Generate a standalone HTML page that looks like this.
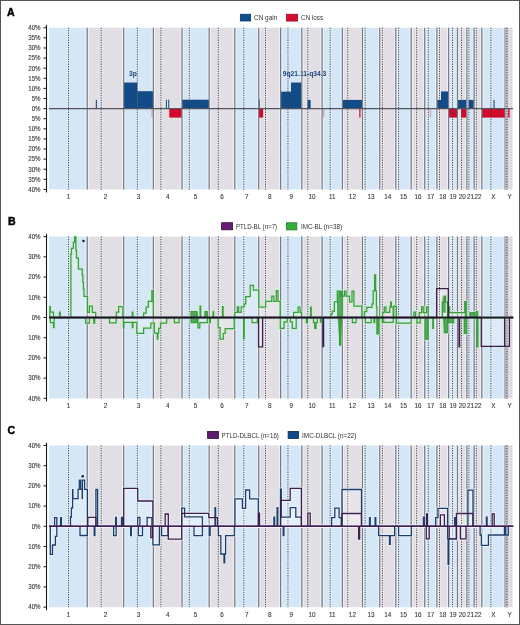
<!DOCTYPE html>
<html><head><meta charset="utf-8"><style>html,body{margin:0;padding:0;background:#fff;}svg{display:block;will-change:transform;}</style></head>
<body><svg width="520" height="625" viewBox="0 0 520 625">
<rect x="0.5" y="0.5" width="519" height="624" fill="#fff" stroke="#555" stroke-width="1"/>
<rect x="49" y="27.7" width="38.21" height="161.8" fill="#d5e7f7"/>
<rect x="87.21" y="27.7" width="36.47" height="161.8" fill="#e2dfe4"/>
<rect x="123.68" y="27.7" width="29.69" height="161.8" fill="#d5e7f7"/>
<rect x="153.37" y="27.7" width="28.66" height="161.8" fill="#e2dfe4"/>
<rect x="182.03" y="27.7" width="27.13" height="161.8" fill="#d5e7f7"/>
<rect x="209.16" y="27.7" width="25.66" height="161.8" fill="#e2dfe4"/>
<rect x="234.81" y="27.7" width="23.86" height="161.8" fill="#d5e7f7"/>
<rect x="258.68" y="27.7" width="21.95" height="161.8" fill="#e2dfe4"/>
<rect x="280.62" y="27.7" width="21.17" height="161.8" fill="#d5e7f7"/>
<rect x="301.8" y="27.7" width="20.32" height="161.8" fill="#e2dfe4"/>
<rect x="322.12" y="27.7" width="20.24" height="161.8" fill="#d5e7f7"/>
<rect x="342.36" y="27.7" width="20.07" height="161.8" fill="#e2dfe4"/>
<rect x="362.43" y="27.7" width="17.27" height="161.8" fill="#d5e7f7"/>
<rect x="379.7" y="27.7" width="16.1" height="161.8" fill="#e2dfe4"/>
<rect x="395.79" y="27.7" width="15.37" height="161.8" fill="#d5e7f7"/>
<rect x="411.17" y="27.7" width="13.55" height="161.8" fill="#e2dfe4"/>
<rect x="424.72" y="27.7" width="12.17" height="161.8" fill="#d5e7f7"/>
<rect x="436.89" y="27.7" width="11.71" height="161.8" fill="#e2dfe4"/>
<rect x="448.6" y="27.7" width="8.87" height="161.8" fill="#d5e7f7"/>
<rect x="457.46" y="27.7" width="9.45" height="161.8" fill="#e2dfe4"/>
<rect x="466.91" y="27.7" width="7.22" height="161.8" fill="#d5e7f7"/>
<rect x="474.13" y="27.7" width="7.69" height="161.8" fill="#e2dfe4"/>
<rect x="481.82" y="27.7" width="23.28" height="161.8" fill="#d5e7f7"/>
<rect x="505.1" y="27.7" width="7.5" height="161.8" fill="#e2dfe4"/>
<line x1="87.21" y1="27.7" x2="87.21" y2="189.5" stroke="#fff" stroke-opacity="0.5" stroke-width="3.4"/>
<line x1="123.68" y1="27.7" x2="123.68" y2="189.5" stroke="#fff" stroke-opacity="0.5" stroke-width="3.4"/>
<line x1="153.37" y1="27.7" x2="153.37" y2="189.5" stroke="#fff" stroke-opacity="0.5" stroke-width="3.4"/>
<line x1="182.03" y1="27.7" x2="182.03" y2="189.5" stroke="#fff" stroke-opacity="0.5" stroke-width="3.4"/>
<line x1="209.16" y1="27.7" x2="209.16" y2="189.5" stroke="#fff" stroke-opacity="0.5" stroke-width="3.4"/>
<line x1="234.81" y1="27.7" x2="234.81" y2="189.5" stroke="#fff" stroke-opacity="0.5" stroke-width="3.4"/>
<line x1="258.68" y1="27.7" x2="258.68" y2="189.5" stroke="#fff" stroke-opacity="0.5" stroke-width="3.4"/>
<line x1="280.62" y1="27.7" x2="280.62" y2="189.5" stroke="#fff" stroke-opacity="0.5" stroke-width="3.4"/>
<line x1="301.8" y1="27.7" x2="301.8" y2="189.5" stroke="#fff" stroke-opacity="0.5" stroke-width="3.4"/>
<line x1="322.12" y1="27.7" x2="322.12" y2="189.5" stroke="#fff" stroke-opacity="0.5" stroke-width="3.4"/>
<line x1="342.36" y1="27.7" x2="342.36" y2="189.5" stroke="#fff" stroke-opacity="0.5" stroke-width="3.4"/>
<line x1="362.43" y1="27.7" x2="362.43" y2="189.5" stroke="#fff" stroke-opacity="0.5" stroke-width="3.4"/>
<line x1="379.7" y1="27.7" x2="379.7" y2="189.5" stroke="#fff" stroke-opacity="0.5" stroke-width="3.4"/>
<line x1="395.79" y1="27.7" x2="395.79" y2="189.5" stroke="#fff" stroke-opacity="0.5" stroke-width="3.4"/>
<line x1="411.17" y1="27.7" x2="411.17" y2="189.5" stroke="#fff" stroke-opacity="0.5" stroke-width="3.4"/>
<line x1="424.72" y1="27.7" x2="424.72" y2="189.5" stroke="#fff" stroke-opacity="0.5" stroke-width="3.4"/>
<line x1="436.89" y1="27.7" x2="436.89" y2="189.5" stroke="#fff" stroke-opacity="0.5" stroke-width="3.4"/>
<line x1="448.6" y1="27.7" x2="448.6" y2="189.5" stroke="#fff" stroke-opacity="0.5" stroke-width="3.4"/>
<line x1="457.46" y1="27.7" x2="457.46" y2="189.5" stroke="#fff" stroke-opacity="0.5" stroke-width="3.4"/>
<line x1="466.91" y1="27.7" x2="466.91" y2="189.5" stroke="#fff" stroke-opacity="0.5" stroke-width="3.4"/>
<line x1="474.13" y1="27.7" x2="474.13" y2="189.5" stroke="#fff" stroke-opacity="0.5" stroke-width="3.4"/>
<line x1="481.82" y1="27.7" x2="481.82" y2="189.5" stroke="#fff" stroke-opacity="0.5" stroke-width="3.4"/>
<line x1="505.1" y1="27.7" x2="505.1" y2="189.5" stroke="#fff" stroke-opacity="0.5" stroke-width="3.4"/>
<line x1="68.58" y1="27.7" x2="68.58" y2="189.5" stroke="#fff" stroke-opacity="0.3" stroke-width="2.8"/>
<line x1="101.2" y1="27.7" x2="101.2" y2="189.5" stroke="#fff" stroke-opacity="0.3" stroke-width="2.8"/>
<line x1="137.32" y1="27.7" x2="137.32" y2="189.5" stroke="#fff" stroke-opacity="0.3" stroke-width="2.8"/>
<line x1="160.93" y1="27.7" x2="160.93" y2="189.5" stroke="#fff" stroke-opacity="0.3" stroke-width="2.8"/>
<line x1="189.29" y1="27.7" x2="189.29" y2="189.5" stroke="#fff" stroke-opacity="0.3" stroke-width="2.8"/>
<line x1="218.3" y1="27.7" x2="218.3" y2="189.5" stroke="#fff" stroke-opacity="0.3" stroke-width="2.8"/>
<line x1="243.8" y1="27.7" x2="243.8" y2="189.5" stroke="#fff" stroke-opacity="0.3" stroke-width="2.8"/>
<line x1="265.51" y1="27.7" x2="265.51" y2="189.5" stroke="#fff" stroke-opacity="0.3" stroke-width="2.8"/>
<line x1="287.97" y1="27.7" x2="287.97" y2="189.5" stroke="#fff" stroke-opacity="0.3" stroke-width="2.8"/>
<line x1="307.82" y1="27.7" x2="307.82" y2="189.5" stroke="#fff" stroke-opacity="0.3" stroke-width="2.8"/>
<line x1="330.17" y1="27.7" x2="330.17" y2="189.5" stroke="#fff" stroke-opacity="0.3" stroke-width="2.8"/>
<line x1="347.73" y1="27.7" x2="347.73" y2="189.5" stroke="#fff" stroke-opacity="0.3" stroke-width="2.8"/>
<line x1="365.11" y1="27.7" x2="365.11" y2="189.5" stroke="#fff" stroke-opacity="0.3" stroke-width="2.8"/>
<line x1="382.34" y1="27.7" x2="382.34" y2="189.5" stroke="#fff" stroke-opacity="0.3" stroke-width="2.8"/>
<line x1="398.64" y1="27.7" x2="398.64" y2="189.5" stroke="#fff" stroke-opacity="0.3" stroke-width="2.8"/>
<line x1="416.66" y1="27.7" x2="416.66" y2="189.5" stroke="#fff" stroke-opacity="0.3" stroke-width="2.8"/>
<line x1="428.31" y1="27.7" x2="428.31" y2="189.5" stroke="#fff" stroke-opacity="0.3" stroke-width="2.8"/>
<line x1="439.47" y1="27.7" x2="439.47" y2="189.5" stroke="#fff" stroke-opacity="0.3" stroke-width="2.8"/>
<line x1="452.57" y1="27.7" x2="452.57" y2="189.5" stroke="#fff" stroke-opacity="0.3" stroke-width="2.8"/>
<line x1="461.59" y1="27.7" x2="461.59" y2="189.5" stroke="#fff" stroke-opacity="0.3" stroke-width="2.8"/>
<line x1="468.89" y1="27.7" x2="468.89" y2="189.5" stroke="#fff" stroke-opacity="0.3" stroke-width="2.8"/>
<line x1="476.33" y1="27.7" x2="476.33" y2="189.5" stroke="#fff" stroke-opacity="0.3" stroke-width="2.8"/>
<line x1="490.91" y1="27.7" x2="490.91" y2="189.5" stroke="#fff" stroke-opacity="0.3" stroke-width="2.8"/>
<text x="129" y="75.8" font-size="6.7" font-weight="bold" fill="#1a4678" font-family="Liberation Sans, sans-serif">3p</text>
<text x="282.8" y="75.8" font-size="6.7" font-weight="bold" fill="#1a4678" font-family="Liberation Sans, sans-serif">9q21.11-q34.3</text>
<rect x="95.8" y="99.91" width="1.1" height="8.69" fill="#114b88"/>
<rect x="123.7" y="82.53" width="13.6" height="26.07" fill="#114b88"/>
<rect x="137.3" y="91.22" width="16.2" height="17.38" fill="#114b88"/>
<rect x="165.9" y="99.71" width="1" height="8.89" fill="#114b88"/>
<rect x="168.2" y="99.71" width="1" height="8.89" fill="#114b88"/>
<rect x="181.9" y="99.71" width="27.1" height="8.89" fill="#114b88"/>
<rect x="258.7" y="99.3" width="1" height="9.3" fill="#114b88"/>
<rect x="280.5" y="91.62" width="10.5" height="16.98" fill="#114b88"/>
<rect x="291" y="82.53" width="10.5" height="26.07" fill="#114b88"/>
<rect x="307.6" y="99.91" width="3" height="8.69" fill="#114b88"/>
<rect x="342.5" y="99.91" width="19.8" height="8.69" fill="#114b88"/>
<rect x="437.1" y="99.91" width="11.3" height="8.69" fill="#114b88"/>
<rect x="441" y="91.42" width="7" height="17.18" fill="#114b88"/>
<rect x="457.7" y="99.91" width="8.7" height="8.69" fill="#114b88"/>
<rect x="468.7" y="99.91" width="5.1" height="8.69" fill="#114b88"/>
<rect x="493.5" y="99.91" width="1.1" height="8.69" fill="#114b88"/>
<rect x="169.3" y="108.6" width="12.5" height="8.99" fill="#d3062b"/>
<rect x="258.7" y="108.6" width="4.4" height="8.99" fill="#d3062b"/>
<rect x="359.3" y="108.6" width="1.2" height="8.99" fill="#d3062b"/>
<rect x="448.6" y="108.6" width="8.9" height="8.99" fill="#d3062b"/>
<rect x="461.2" y="108.6" width="5.2" height="8.99" fill="#d3062b"/>
<rect x="481.9" y="108.6" width="27.7" height="8.99" fill="#d3062b"/>
<rect x="151.3" y="108.6" width="1.4" height="8.69" fill="#d9a6b6"/>
<rect x="322.9" y="108.6" width="1.4" height="8.69" fill="#d9a6b6"/>
<rect x="429.8" y="108.6" width="1.3" height="8.69" fill="#d9a6b6"/>
<line x1="87.21" y1="27.7" x2="87.21" y2="189.5" stroke="#767b86" stroke-width="1.25"/>
<line x1="123.68" y1="27.7" x2="123.68" y2="189.5" stroke="#767b86" stroke-width="1.25"/>
<line x1="153.37" y1="27.7" x2="153.37" y2="189.5" stroke="#767b86" stroke-width="1.25"/>
<line x1="182.03" y1="27.7" x2="182.03" y2="189.5" stroke="#767b86" stroke-width="1.25"/>
<line x1="209.16" y1="27.7" x2="209.16" y2="189.5" stroke="#767b86" stroke-width="1.25"/>
<line x1="234.81" y1="27.7" x2="234.81" y2="189.5" stroke="#767b86" stroke-width="1.25"/>
<line x1="258.68" y1="27.7" x2="258.68" y2="189.5" stroke="#767b86" stroke-width="1.25"/>
<line x1="280.62" y1="27.7" x2="280.62" y2="189.5" stroke="#767b86" stroke-width="1.25"/>
<line x1="301.8" y1="27.7" x2="301.8" y2="189.5" stroke="#767b86" stroke-width="1.25"/>
<line x1="322.12" y1="27.7" x2="322.12" y2="189.5" stroke="#767b86" stroke-width="1.25"/>
<line x1="342.36" y1="27.7" x2="342.36" y2="189.5" stroke="#767b86" stroke-width="1.25"/>
<line x1="362.43" y1="27.7" x2="362.43" y2="189.5" stroke="#767b86" stroke-width="1.25"/>
<line x1="379.7" y1="27.7" x2="379.7" y2="189.5" stroke="#767b86" stroke-width="1.25"/>
<line x1="395.79" y1="27.7" x2="395.79" y2="189.5" stroke="#767b86" stroke-width="1.25"/>
<line x1="411.17" y1="27.7" x2="411.17" y2="189.5" stroke="#767b86" stroke-width="1.25"/>
<line x1="424.72" y1="27.7" x2="424.72" y2="189.5" stroke="#767b86" stroke-width="1.25"/>
<line x1="436.89" y1="27.7" x2="436.89" y2="189.5" stroke="#767b86" stroke-width="1.25"/>
<line x1="448.6" y1="27.7" x2="448.6" y2="189.5" stroke="#767b86" stroke-width="1.25"/>
<line x1="457.46" y1="27.7" x2="457.46" y2="189.5" stroke="#767b86" stroke-width="1.25"/>
<line x1="466.91" y1="27.7" x2="466.91" y2="189.5" stroke="#767b86" stroke-width="1.25"/>
<line x1="474.13" y1="27.7" x2="474.13" y2="189.5" stroke="#767b86" stroke-width="1.25"/>
<line x1="481.82" y1="27.7" x2="481.82" y2="189.5" stroke="#767b86" stroke-width="1.25"/>
<line x1="505.1" y1="27.7" x2="505.1" y2="189.5" stroke="#767b86" stroke-width="1.25"/>
<line x1="68.58" y1="27.7" x2="68.58" y2="189.5" stroke="#3a3e4c" stroke-width="1" stroke-dasharray="1.2 1.2"/>
<line x1="101.2" y1="27.7" x2="101.2" y2="189.5" stroke="#3a3e4c" stroke-width="1" stroke-dasharray="1.2 1.2"/>
<line x1="137.32" y1="27.7" x2="137.32" y2="189.5" stroke="#3a3e4c" stroke-width="1" stroke-dasharray="1.2 1.2"/>
<line x1="160.93" y1="27.7" x2="160.93" y2="189.5" stroke="#3a3e4c" stroke-width="1" stroke-dasharray="1.2 1.2"/>
<line x1="189.29" y1="27.7" x2="189.29" y2="189.5" stroke="#3a3e4c" stroke-width="1" stroke-dasharray="1.2 1.2"/>
<line x1="218.3" y1="27.7" x2="218.3" y2="189.5" stroke="#3a3e4c" stroke-width="1" stroke-dasharray="1.2 1.2"/>
<line x1="243.8" y1="27.7" x2="243.8" y2="189.5" stroke="#3a3e4c" stroke-width="1" stroke-dasharray="1.2 1.2"/>
<line x1="265.51" y1="27.7" x2="265.51" y2="189.5" stroke="#3a3e4c" stroke-width="1" stroke-dasharray="1.2 1.2"/>
<line x1="287.97" y1="27.7" x2="287.97" y2="189.5" stroke="#3a3e4c" stroke-width="1" stroke-dasharray="1.2 1.2"/>
<line x1="307.82" y1="27.7" x2="307.82" y2="189.5" stroke="#3a3e4c" stroke-width="1" stroke-dasharray="1.2 1.2"/>
<line x1="330.17" y1="27.7" x2="330.17" y2="189.5" stroke="#3a3e4c" stroke-width="1" stroke-dasharray="1.2 1.2"/>
<line x1="347.73" y1="27.7" x2="347.73" y2="189.5" stroke="#3a3e4c" stroke-width="1" stroke-dasharray="1.2 1.2"/>
<line x1="365.11" y1="27.7" x2="365.11" y2="189.5" stroke="#3a3e4c" stroke-width="1" stroke-dasharray="1.2 1.2"/>
<line x1="382.34" y1="27.7" x2="382.34" y2="189.5" stroke="#3a3e4c" stroke-width="1" stroke-dasharray="1.2 1.2"/>
<line x1="398.64" y1="27.7" x2="398.64" y2="189.5" stroke="#3a3e4c" stroke-width="1" stroke-dasharray="1.2 1.2"/>
<line x1="416.66" y1="27.7" x2="416.66" y2="189.5" stroke="#3a3e4c" stroke-width="1" stroke-dasharray="1.2 1.2"/>
<line x1="428.31" y1="27.7" x2="428.31" y2="189.5" stroke="#3a3e4c" stroke-width="1" stroke-dasharray="1.2 1.2"/>
<line x1="439.47" y1="27.7" x2="439.47" y2="189.5" stroke="#3a3e4c" stroke-width="1" stroke-dasharray="1.2 1.2"/>
<line x1="452.57" y1="27.7" x2="452.57" y2="189.5" stroke="#3a3e4c" stroke-width="1" stroke-dasharray="1.2 1.2"/>
<line x1="461.59" y1="27.7" x2="461.59" y2="189.5" stroke="#3a3e4c" stroke-width="1" stroke-dasharray="1.2 1.2"/>
<line x1="468.89" y1="27.7" x2="468.89" y2="189.5" stroke="#3a3e4c" stroke-width="1" stroke-dasharray="1.2 1.2"/>
<line x1="476.33" y1="27.7" x2="476.33" y2="189.5" stroke="#3a3e4c" stroke-width="1" stroke-dasharray="1.2 1.2"/>
<line x1="490.91" y1="27.7" x2="490.91" y2="189.5" stroke="#3a3e4c" stroke-width="1" stroke-dasharray="1.2 1.2"/>
<rect x="505.3" y="27.7" width="2.9" height="161.8" fill="#c6c8ce"/>
<line x1="506.8" y1="27.7" x2="506.8" y2="189.5" stroke="#7c808c" stroke-width="2.2" stroke-dasharray="1.2 1.4"/>
<line x1="511.4" y1="27.7" x2="511.4" y2="189.5" stroke="#c9c4cc" stroke-width="0.8" stroke-dasharray="1.1 1.6"/>
<line x1="49" y1="108.6" x2="513" y2="108.6" stroke="#55555c" stroke-width="1.2"/>
<line x1="46.5" y1="24.9" x2="46.5" y2="192.5" stroke="#1a1a1a" stroke-width="1.1"/>
<line x1="43.5" y1="27.76" x2="46.5" y2="27.76" stroke="#1a1a1a" stroke-width="1"/>
<text transform="translate(40.6 30.11) scale(0.95 1)" text-anchor="end" font-size="6.5" fill="#3a3a3a" stroke="#3a3a3a" stroke-width="0.12" font-family="Liberation Sans, sans-serif">40%</text>
<line x1="43.5" y1="37.86" x2="46.5" y2="37.86" stroke="#1a1a1a" stroke-width="1"/>
<text transform="translate(40.6 40.21) scale(0.95 1)" text-anchor="end" font-size="6.5" fill="#3a3a3a" stroke="#3a3a3a" stroke-width="0.12" font-family="Liberation Sans, sans-serif">35%</text>
<line x1="43.5" y1="47.97" x2="46.5" y2="47.97" stroke="#1a1a1a" stroke-width="1"/>
<text transform="translate(40.6 50.32) scale(0.95 1)" text-anchor="end" font-size="6.5" fill="#3a3a3a" stroke="#3a3a3a" stroke-width="0.12" font-family="Liberation Sans, sans-serif">30%</text>
<line x1="43.5" y1="58.07" x2="46.5" y2="58.07" stroke="#1a1a1a" stroke-width="1"/>
<text transform="translate(40.6 60.42) scale(0.95 1)" text-anchor="end" font-size="6.5" fill="#3a3a3a" stroke="#3a3a3a" stroke-width="0.12" font-family="Liberation Sans, sans-serif">25%</text>
<line x1="43.5" y1="68.18" x2="46.5" y2="68.18" stroke="#1a1a1a" stroke-width="1"/>
<text transform="translate(40.6 70.53) scale(0.95 1)" text-anchor="end" font-size="6.5" fill="#3a3a3a" stroke="#3a3a3a" stroke-width="0.12" font-family="Liberation Sans, sans-serif">20%</text>
<line x1="43.5" y1="78.28" x2="46.5" y2="78.28" stroke="#1a1a1a" stroke-width="1"/>
<text transform="translate(40.6 80.63) scale(0.95 1)" text-anchor="end" font-size="6.5" fill="#3a3a3a" stroke="#3a3a3a" stroke-width="0.12" font-family="Liberation Sans, sans-serif">15%</text>
<line x1="43.5" y1="88.39" x2="46.5" y2="88.39" stroke="#1a1a1a" stroke-width="1"/>
<text transform="translate(40.6 90.74) scale(0.95 1)" text-anchor="end" font-size="6.5" fill="#3a3a3a" stroke="#3a3a3a" stroke-width="0.12" font-family="Liberation Sans, sans-serif">10%</text>
<line x1="43.5" y1="98.49" x2="46.5" y2="98.49" stroke="#1a1a1a" stroke-width="1"/>
<text transform="translate(40.6 100.84) scale(0.95 1)" text-anchor="end" font-size="6.5" fill="#3a3a3a" stroke="#3a3a3a" stroke-width="0.12" font-family="Liberation Sans, sans-serif">5%</text>
<line x1="43.5" y1="108.6" x2="46.5" y2="108.6" stroke="#1a1a1a" stroke-width="1"/>
<text transform="translate(40.6 110.95) scale(0.95 1)" text-anchor="end" font-size="6.5" fill="#3a3a3a" stroke="#3a3a3a" stroke-width="0.12" font-family="Liberation Sans, sans-serif">0%</text>
<line x1="43.5" y1="118.7" x2="46.5" y2="118.7" stroke="#1a1a1a" stroke-width="1"/>
<text transform="translate(40.6 121.05) scale(0.95 1)" text-anchor="end" font-size="6.5" fill="#3a3a3a" stroke="#3a3a3a" stroke-width="0.12" font-family="Liberation Sans, sans-serif">5%</text>
<line x1="43.5" y1="128.81" x2="46.5" y2="128.81" stroke="#1a1a1a" stroke-width="1"/>
<text transform="translate(40.6 131.16) scale(0.95 1)" text-anchor="end" font-size="6.5" fill="#3a3a3a" stroke="#3a3a3a" stroke-width="0.12" font-family="Liberation Sans, sans-serif">10%</text>
<line x1="43.5" y1="138.91" x2="46.5" y2="138.91" stroke="#1a1a1a" stroke-width="1"/>
<text transform="translate(40.6 141.26) scale(0.95 1)" text-anchor="end" font-size="6.5" fill="#3a3a3a" stroke="#3a3a3a" stroke-width="0.12" font-family="Liberation Sans, sans-serif">15%</text>
<line x1="43.5" y1="149.02" x2="46.5" y2="149.02" stroke="#1a1a1a" stroke-width="1"/>
<text transform="translate(40.6 151.37) scale(0.95 1)" text-anchor="end" font-size="6.5" fill="#3a3a3a" stroke="#3a3a3a" stroke-width="0.12" font-family="Liberation Sans, sans-serif">20%</text>
<line x1="43.5" y1="159.12" x2="46.5" y2="159.12" stroke="#1a1a1a" stroke-width="1"/>
<text transform="translate(40.6 161.47) scale(0.95 1)" text-anchor="end" font-size="6.5" fill="#3a3a3a" stroke="#3a3a3a" stroke-width="0.12" font-family="Liberation Sans, sans-serif">25%</text>
<line x1="43.5" y1="169.23" x2="46.5" y2="169.23" stroke="#1a1a1a" stroke-width="1"/>
<text transform="translate(40.6 171.58) scale(0.95 1)" text-anchor="end" font-size="6.5" fill="#3a3a3a" stroke="#3a3a3a" stroke-width="0.12" font-family="Liberation Sans, sans-serif">30%</text>
<line x1="43.5" y1="179.33" x2="46.5" y2="179.33" stroke="#1a1a1a" stroke-width="1"/>
<text transform="translate(40.6 181.68) scale(0.95 1)" text-anchor="end" font-size="6.5" fill="#3a3a3a" stroke="#3a3a3a" stroke-width="0.12" font-family="Liberation Sans, sans-serif">35%</text>
<line x1="43.5" y1="189.44" x2="46.5" y2="189.44" stroke="#1a1a1a" stroke-width="1"/>
<text transform="translate(40.6 191.79) scale(0.95 1)" text-anchor="end" font-size="6.5" fill="#3a3a3a" stroke="#3a3a3a" stroke-width="0.12" font-family="Liberation Sans, sans-serif">40%</text>
<text transform="translate(68.53 198.8) scale(0.92 1)" text-anchor="middle" font-size="6.9" fill="#3a3a3a" stroke="#3a3a3a" stroke-width="0.12" font-family="Liberation Sans, sans-serif">1</text>
<text transform="translate(105.45 198.8) scale(0.92 1)" text-anchor="middle" font-size="6.9" fill="#3a3a3a" stroke="#3a3a3a" stroke-width="0.12" font-family="Liberation Sans, sans-serif">2</text>
<text transform="translate(138.52 198.8) scale(0.92 1)" text-anchor="middle" font-size="6.9" fill="#3a3a3a" stroke="#3a3a3a" stroke-width="0.12" font-family="Liberation Sans, sans-serif">3</text>
<text transform="translate(167.7 198.8) scale(0.92 1)" text-anchor="middle" font-size="6.9" fill="#3a3a3a" stroke="#3a3a3a" stroke-width="0.12" font-family="Liberation Sans, sans-serif">4</text>
<text transform="translate(195.59 198.8) scale(0.92 1)" text-anchor="middle" font-size="6.9" fill="#3a3a3a" stroke="#3a3a3a" stroke-width="0.12" font-family="Liberation Sans, sans-serif">5</text>
<text transform="translate(221.99 198.8) scale(0.92 1)" text-anchor="middle" font-size="6.9" fill="#3a3a3a" stroke="#3a3a3a" stroke-width="0.12" font-family="Liberation Sans, sans-serif">6</text>
<text transform="translate(246.75 198.8) scale(0.92 1)" text-anchor="middle" font-size="6.9" fill="#3a3a3a" stroke="#3a3a3a" stroke-width="0.12" font-family="Liberation Sans, sans-serif">7</text>
<text transform="translate(269.65 198.8) scale(0.92 1)" text-anchor="middle" font-size="6.9" fill="#3a3a3a" stroke="#3a3a3a" stroke-width="0.12" font-family="Liberation Sans, sans-serif">8</text>
<text transform="translate(291.21 198.8) scale(0.92 1)" text-anchor="middle" font-size="6.9" fill="#3a3a3a" stroke="#3a3a3a" stroke-width="0.12" font-family="Liberation Sans, sans-serif">9</text>
<text transform="translate(311.96 198.8) scale(0.92 1)" text-anchor="middle" font-size="6.9" fill="#3a3a3a" stroke="#3a3a3a" stroke-width="0.12" font-family="Liberation Sans, sans-serif">10</text>
<text transform="translate(332.24 198.8) scale(0.92 1)" text-anchor="middle" font-size="6.9" fill="#3a3a3a" stroke="#3a3a3a" stroke-width="0.12" font-family="Liberation Sans, sans-serif">11</text>
<text transform="translate(352.39 198.8) scale(0.92 1)" text-anchor="middle" font-size="6.9" fill="#3a3a3a" stroke="#3a3a3a" stroke-width="0.12" font-family="Liberation Sans, sans-serif">12</text>
<text transform="translate(371.06 198.8) scale(0.92 1)" text-anchor="middle" font-size="6.9" fill="#3a3a3a" stroke="#3a3a3a" stroke-width="0.12" font-family="Liberation Sans, sans-serif">13</text>
<text transform="translate(387.75 198.8) scale(0.92 1)" text-anchor="middle" font-size="6.9" fill="#3a3a3a" stroke="#3a3a3a" stroke-width="0.12" font-family="Liberation Sans, sans-serif">14</text>
<text transform="translate(403.48 198.8) scale(0.92 1)" text-anchor="middle" font-size="6.9" fill="#3a3a3a" stroke="#3a3a3a" stroke-width="0.12" font-family="Liberation Sans, sans-serif">15</text>
<text transform="translate(417.94 198.8) scale(0.92 1)" text-anchor="middle" font-size="6.9" fill="#3a3a3a" stroke="#3a3a3a" stroke-width="0.12" font-family="Liberation Sans, sans-serif">16</text>
<text transform="translate(430.8 198.8) scale(0.92 1)" text-anchor="middle" font-size="6.9" fill="#3a3a3a" stroke="#3a3a3a" stroke-width="0.12" font-family="Liberation Sans, sans-serif">17</text>
<text transform="translate(442.74 198.8) scale(0.92 1)" text-anchor="middle" font-size="6.9" fill="#3a3a3a" stroke="#3a3a3a" stroke-width="0.12" font-family="Liberation Sans, sans-serif">18</text>
<text transform="translate(453.03 198.8) scale(0.92 1)" text-anchor="middle" font-size="6.9" fill="#3a3a3a" stroke="#3a3a3a" stroke-width="0.12" font-family="Liberation Sans, sans-serif">19</text>
<text transform="translate(462.19 198.8) scale(0.92 1)" text-anchor="middle" font-size="6.9" fill="#3a3a3a" stroke="#3a3a3a" stroke-width="0.12" font-family="Liberation Sans, sans-serif">20</text>
<text transform="translate(470.52 198.8) scale(0.92 1)" text-anchor="middle" font-size="6.9" fill="#3a3a3a" stroke="#3a3a3a" stroke-width="0.12" font-family="Liberation Sans, sans-serif">21</text>
<text transform="translate(477.98 198.8) scale(0.92 1)" text-anchor="middle" font-size="6.9" fill="#3a3a3a" stroke="#3a3a3a" stroke-width="0.12" font-family="Liberation Sans, sans-serif">22</text>
<text transform="translate(493.46 198.8) scale(0.92 1)" text-anchor="middle" font-size="6.9" fill="#3a3a3a" stroke="#3a3a3a" stroke-width="0.12" font-family="Liberation Sans, sans-serif">X</text>
<text transform="translate(509.55 198.8) scale(0.92 1)" text-anchor="middle" font-size="6.9" fill="#3a3a3a" stroke="#3a3a3a" stroke-width="0.12" font-family="Liberation Sans, sans-serif">Y</text>
<text x="7.1" y="15.8" font-size="10.6" font-weight="bold" fill="#000" stroke="#000" stroke-width="0.45" font-family="Liberation Sans, sans-serif">A</text>
<rect x="240.3" y="14.2" width="10.4" height="6.8" fill="#0f4e8c" stroke="#0a3060" stroke-width="0.7"/>
<text x="254" y="20" font-size="7.2" fill="#333" textLength="23.3" lengthAdjust="spacingAndGlyphs" font-family="Liberation Sans, sans-serif">CN gain</text>
<rect x="286.5" y="14.2" width="11.2" height="6.9" fill="#d40a2e" stroke="#9a0a20" stroke-width="0.7"/>
<text x="301.1" y="20" font-size="7.2" fill="#333" textLength="22" lengthAdjust="spacingAndGlyphs" font-family="Liberation Sans, sans-serif">CN loss</text>
<rect x="49" y="236.6" width="38.21" height="161.8" fill="#d5e7f7"/>
<rect x="87.21" y="236.6" width="36.47" height="161.8" fill="#e2dfe4"/>
<rect x="123.68" y="236.6" width="29.69" height="161.8" fill="#d5e7f7"/>
<rect x="153.37" y="236.6" width="28.66" height="161.8" fill="#e2dfe4"/>
<rect x="182.03" y="236.6" width="27.13" height="161.8" fill="#d5e7f7"/>
<rect x="209.16" y="236.6" width="25.66" height="161.8" fill="#e2dfe4"/>
<rect x="234.81" y="236.6" width="23.86" height="161.8" fill="#d5e7f7"/>
<rect x="258.68" y="236.6" width="21.95" height="161.8" fill="#e2dfe4"/>
<rect x="280.62" y="236.6" width="21.17" height="161.8" fill="#d5e7f7"/>
<rect x="301.8" y="236.6" width="20.32" height="161.8" fill="#e2dfe4"/>
<rect x="322.12" y="236.6" width="20.24" height="161.8" fill="#d5e7f7"/>
<rect x="342.36" y="236.6" width="20.07" height="161.8" fill="#e2dfe4"/>
<rect x="362.43" y="236.6" width="17.27" height="161.8" fill="#d5e7f7"/>
<rect x="379.7" y="236.6" width="16.1" height="161.8" fill="#e2dfe4"/>
<rect x="395.79" y="236.6" width="15.37" height="161.8" fill="#d5e7f7"/>
<rect x="411.17" y="236.6" width="13.55" height="161.8" fill="#e2dfe4"/>
<rect x="424.72" y="236.6" width="12.17" height="161.8" fill="#d5e7f7"/>
<rect x="436.89" y="236.6" width="11.71" height="161.8" fill="#e2dfe4"/>
<rect x="448.6" y="236.6" width="8.87" height="161.8" fill="#d5e7f7"/>
<rect x="457.46" y="236.6" width="9.45" height="161.8" fill="#e2dfe4"/>
<rect x="466.91" y="236.6" width="7.22" height="161.8" fill="#d5e7f7"/>
<rect x="474.13" y="236.6" width="7.69" height="161.8" fill="#e2dfe4"/>
<rect x="481.82" y="236.6" width="23.28" height="161.8" fill="#d5e7f7"/>
<rect x="505.1" y="236.6" width="7.5" height="161.8" fill="#e2dfe4"/>
<line x1="87.21" y1="236.6" x2="87.21" y2="398.4" stroke="#fff" stroke-opacity="0.5" stroke-width="3.4"/>
<line x1="123.68" y1="236.6" x2="123.68" y2="398.4" stroke="#fff" stroke-opacity="0.5" stroke-width="3.4"/>
<line x1="153.37" y1="236.6" x2="153.37" y2="398.4" stroke="#fff" stroke-opacity="0.5" stroke-width="3.4"/>
<line x1="182.03" y1="236.6" x2="182.03" y2="398.4" stroke="#fff" stroke-opacity="0.5" stroke-width="3.4"/>
<line x1="209.16" y1="236.6" x2="209.16" y2="398.4" stroke="#fff" stroke-opacity="0.5" stroke-width="3.4"/>
<line x1="234.81" y1="236.6" x2="234.81" y2="398.4" stroke="#fff" stroke-opacity="0.5" stroke-width="3.4"/>
<line x1="258.68" y1="236.6" x2="258.68" y2="398.4" stroke="#fff" stroke-opacity="0.5" stroke-width="3.4"/>
<line x1="280.62" y1="236.6" x2="280.62" y2="398.4" stroke="#fff" stroke-opacity="0.5" stroke-width="3.4"/>
<line x1="301.8" y1="236.6" x2="301.8" y2="398.4" stroke="#fff" stroke-opacity="0.5" stroke-width="3.4"/>
<line x1="322.12" y1="236.6" x2="322.12" y2="398.4" stroke="#fff" stroke-opacity="0.5" stroke-width="3.4"/>
<line x1="342.36" y1="236.6" x2="342.36" y2="398.4" stroke="#fff" stroke-opacity="0.5" stroke-width="3.4"/>
<line x1="362.43" y1="236.6" x2="362.43" y2="398.4" stroke="#fff" stroke-opacity="0.5" stroke-width="3.4"/>
<line x1="379.7" y1="236.6" x2="379.7" y2="398.4" stroke="#fff" stroke-opacity="0.5" stroke-width="3.4"/>
<line x1="395.79" y1="236.6" x2="395.79" y2="398.4" stroke="#fff" stroke-opacity="0.5" stroke-width="3.4"/>
<line x1="411.17" y1="236.6" x2="411.17" y2="398.4" stroke="#fff" stroke-opacity="0.5" stroke-width="3.4"/>
<line x1="424.72" y1="236.6" x2="424.72" y2="398.4" stroke="#fff" stroke-opacity="0.5" stroke-width="3.4"/>
<line x1="436.89" y1="236.6" x2="436.89" y2="398.4" stroke="#fff" stroke-opacity="0.5" stroke-width="3.4"/>
<line x1="448.6" y1="236.6" x2="448.6" y2="398.4" stroke="#fff" stroke-opacity="0.5" stroke-width="3.4"/>
<line x1="457.46" y1="236.6" x2="457.46" y2="398.4" stroke="#fff" stroke-opacity="0.5" stroke-width="3.4"/>
<line x1="466.91" y1="236.6" x2="466.91" y2="398.4" stroke="#fff" stroke-opacity="0.5" stroke-width="3.4"/>
<line x1="474.13" y1="236.6" x2="474.13" y2="398.4" stroke="#fff" stroke-opacity="0.5" stroke-width="3.4"/>
<line x1="481.82" y1="236.6" x2="481.82" y2="398.4" stroke="#fff" stroke-opacity="0.5" stroke-width="3.4"/>
<line x1="505.1" y1="236.6" x2="505.1" y2="398.4" stroke="#fff" stroke-opacity="0.5" stroke-width="3.4"/>
<line x1="68.58" y1="236.6" x2="68.58" y2="398.4" stroke="#fff" stroke-opacity="0.3" stroke-width="2.8"/>
<line x1="101.2" y1="236.6" x2="101.2" y2="398.4" stroke="#fff" stroke-opacity="0.3" stroke-width="2.8"/>
<line x1="137.32" y1="236.6" x2="137.32" y2="398.4" stroke="#fff" stroke-opacity="0.3" stroke-width="2.8"/>
<line x1="160.93" y1="236.6" x2="160.93" y2="398.4" stroke="#fff" stroke-opacity="0.3" stroke-width="2.8"/>
<line x1="189.29" y1="236.6" x2="189.29" y2="398.4" stroke="#fff" stroke-opacity="0.3" stroke-width="2.8"/>
<line x1="218.3" y1="236.6" x2="218.3" y2="398.4" stroke="#fff" stroke-opacity="0.3" stroke-width="2.8"/>
<line x1="243.8" y1="236.6" x2="243.8" y2="398.4" stroke="#fff" stroke-opacity="0.3" stroke-width="2.8"/>
<line x1="265.51" y1="236.6" x2="265.51" y2="398.4" stroke="#fff" stroke-opacity="0.3" stroke-width="2.8"/>
<line x1="287.97" y1="236.6" x2="287.97" y2="398.4" stroke="#fff" stroke-opacity="0.3" stroke-width="2.8"/>
<line x1="307.82" y1="236.6" x2="307.82" y2="398.4" stroke="#fff" stroke-opacity="0.3" stroke-width="2.8"/>
<line x1="330.17" y1="236.6" x2="330.17" y2="398.4" stroke="#fff" stroke-opacity="0.3" stroke-width="2.8"/>
<line x1="347.73" y1="236.6" x2="347.73" y2="398.4" stroke="#fff" stroke-opacity="0.3" stroke-width="2.8"/>
<line x1="365.11" y1="236.6" x2="365.11" y2="398.4" stroke="#fff" stroke-opacity="0.3" stroke-width="2.8"/>
<line x1="382.34" y1="236.6" x2="382.34" y2="398.4" stroke="#fff" stroke-opacity="0.3" stroke-width="2.8"/>
<line x1="398.64" y1="236.6" x2="398.64" y2="398.4" stroke="#fff" stroke-opacity="0.3" stroke-width="2.8"/>
<line x1="416.66" y1="236.6" x2="416.66" y2="398.4" stroke="#fff" stroke-opacity="0.3" stroke-width="2.8"/>
<line x1="428.31" y1="236.6" x2="428.31" y2="398.4" stroke="#fff" stroke-opacity="0.3" stroke-width="2.8"/>
<line x1="439.47" y1="236.6" x2="439.47" y2="398.4" stroke="#fff" stroke-opacity="0.3" stroke-width="2.8"/>
<line x1="452.57" y1="236.6" x2="452.57" y2="398.4" stroke="#fff" stroke-opacity="0.3" stroke-width="2.8"/>
<line x1="461.59" y1="236.6" x2="461.59" y2="398.4" stroke="#fff" stroke-opacity="0.3" stroke-width="2.8"/>
<line x1="468.89" y1="236.6" x2="468.89" y2="398.4" stroke="#fff" stroke-opacity="0.3" stroke-width="2.8"/>
<line x1="476.33" y1="236.6" x2="476.33" y2="398.4" stroke="#fff" stroke-opacity="0.3" stroke-width="2.8"/>
<line x1="490.91" y1="236.6" x2="490.91" y2="398.4" stroke="#fff" stroke-opacity="0.3" stroke-width="2.8"/>
<line x1="87.21" y1="236.6" x2="87.21" y2="398.4" stroke="#767b86" stroke-width="1.25"/>
<line x1="123.68" y1="236.6" x2="123.68" y2="398.4" stroke="#767b86" stroke-width="1.25"/>
<line x1="153.37" y1="236.6" x2="153.37" y2="398.4" stroke="#767b86" stroke-width="1.25"/>
<line x1="182.03" y1="236.6" x2="182.03" y2="398.4" stroke="#767b86" stroke-width="1.25"/>
<line x1="209.16" y1="236.6" x2="209.16" y2="398.4" stroke="#767b86" stroke-width="1.25"/>
<line x1="234.81" y1="236.6" x2="234.81" y2="398.4" stroke="#767b86" stroke-width="1.25"/>
<line x1="258.68" y1="236.6" x2="258.68" y2="398.4" stroke="#767b86" stroke-width="1.25"/>
<line x1="280.62" y1="236.6" x2="280.62" y2="398.4" stroke="#767b86" stroke-width="1.25"/>
<line x1="301.8" y1="236.6" x2="301.8" y2="398.4" stroke="#767b86" stroke-width="1.25"/>
<line x1="322.12" y1="236.6" x2="322.12" y2="398.4" stroke="#767b86" stroke-width="1.25"/>
<line x1="342.36" y1="236.6" x2="342.36" y2="398.4" stroke="#767b86" stroke-width="1.25"/>
<line x1="362.43" y1="236.6" x2="362.43" y2="398.4" stroke="#767b86" stroke-width="1.25"/>
<line x1="379.7" y1="236.6" x2="379.7" y2="398.4" stroke="#767b86" stroke-width="1.25"/>
<line x1="395.79" y1="236.6" x2="395.79" y2="398.4" stroke="#767b86" stroke-width="1.25"/>
<line x1="411.17" y1="236.6" x2="411.17" y2="398.4" stroke="#767b86" stroke-width="1.25"/>
<line x1="424.72" y1="236.6" x2="424.72" y2="398.4" stroke="#767b86" stroke-width="1.25"/>
<line x1="436.89" y1="236.6" x2="436.89" y2="398.4" stroke="#767b86" stroke-width="1.25"/>
<line x1="448.6" y1="236.6" x2="448.6" y2="398.4" stroke="#767b86" stroke-width="1.25"/>
<line x1="457.46" y1="236.6" x2="457.46" y2="398.4" stroke="#767b86" stroke-width="1.25"/>
<line x1="466.91" y1="236.6" x2="466.91" y2="398.4" stroke="#767b86" stroke-width="1.25"/>
<line x1="474.13" y1="236.6" x2="474.13" y2="398.4" stroke="#767b86" stroke-width="1.25"/>
<line x1="481.82" y1="236.6" x2="481.82" y2="398.4" stroke="#767b86" stroke-width="1.25"/>
<line x1="505.1" y1="236.6" x2="505.1" y2="398.4" stroke="#767b86" stroke-width="1.25"/>
<line x1="68.58" y1="236.6" x2="68.58" y2="398.4" stroke="#3a3e4c" stroke-width="1" stroke-dasharray="1.2 1.2"/>
<line x1="101.2" y1="236.6" x2="101.2" y2="398.4" stroke="#3a3e4c" stroke-width="1" stroke-dasharray="1.2 1.2"/>
<line x1="137.32" y1="236.6" x2="137.32" y2="398.4" stroke="#3a3e4c" stroke-width="1" stroke-dasharray="1.2 1.2"/>
<line x1="160.93" y1="236.6" x2="160.93" y2="398.4" stroke="#3a3e4c" stroke-width="1" stroke-dasharray="1.2 1.2"/>
<line x1="189.29" y1="236.6" x2="189.29" y2="398.4" stroke="#3a3e4c" stroke-width="1" stroke-dasharray="1.2 1.2"/>
<line x1="218.3" y1="236.6" x2="218.3" y2="398.4" stroke="#3a3e4c" stroke-width="1" stroke-dasharray="1.2 1.2"/>
<line x1="243.8" y1="236.6" x2="243.8" y2="398.4" stroke="#3a3e4c" stroke-width="1" stroke-dasharray="1.2 1.2"/>
<line x1="265.51" y1="236.6" x2="265.51" y2="398.4" stroke="#3a3e4c" stroke-width="1" stroke-dasharray="1.2 1.2"/>
<line x1="287.97" y1="236.6" x2="287.97" y2="398.4" stroke="#3a3e4c" stroke-width="1" stroke-dasharray="1.2 1.2"/>
<line x1="307.82" y1="236.6" x2="307.82" y2="398.4" stroke="#3a3e4c" stroke-width="1" stroke-dasharray="1.2 1.2"/>
<line x1="330.17" y1="236.6" x2="330.17" y2="398.4" stroke="#3a3e4c" stroke-width="1" stroke-dasharray="1.2 1.2"/>
<line x1="347.73" y1="236.6" x2="347.73" y2="398.4" stroke="#3a3e4c" stroke-width="1" stroke-dasharray="1.2 1.2"/>
<line x1="365.11" y1="236.6" x2="365.11" y2="398.4" stroke="#3a3e4c" stroke-width="1" stroke-dasharray="1.2 1.2"/>
<line x1="382.34" y1="236.6" x2="382.34" y2="398.4" stroke="#3a3e4c" stroke-width="1" stroke-dasharray="1.2 1.2"/>
<line x1="398.64" y1="236.6" x2="398.64" y2="398.4" stroke="#3a3e4c" stroke-width="1" stroke-dasharray="1.2 1.2"/>
<line x1="416.66" y1="236.6" x2="416.66" y2="398.4" stroke="#3a3e4c" stroke-width="1" stroke-dasharray="1.2 1.2"/>
<line x1="428.31" y1="236.6" x2="428.31" y2="398.4" stroke="#3a3e4c" stroke-width="1" stroke-dasharray="1.2 1.2"/>
<line x1="439.47" y1="236.6" x2="439.47" y2="398.4" stroke="#3a3e4c" stroke-width="1" stroke-dasharray="1.2 1.2"/>
<line x1="452.57" y1="236.6" x2="452.57" y2="398.4" stroke="#3a3e4c" stroke-width="1" stroke-dasharray="1.2 1.2"/>
<line x1="461.59" y1="236.6" x2="461.59" y2="398.4" stroke="#3a3e4c" stroke-width="1" stroke-dasharray="1.2 1.2"/>
<line x1="468.89" y1="236.6" x2="468.89" y2="398.4" stroke="#3a3e4c" stroke-width="1" stroke-dasharray="1.2 1.2"/>
<line x1="476.33" y1="236.6" x2="476.33" y2="398.4" stroke="#3a3e4c" stroke-width="1" stroke-dasharray="1.2 1.2"/>
<line x1="490.91" y1="236.6" x2="490.91" y2="398.4" stroke="#3a3e4c" stroke-width="1" stroke-dasharray="1.2 1.2"/>
<rect x="505.3" y="236.6" width="2.9" height="161.8" fill="#c6c8ce"/>
<line x1="506.8" y1="236.6" x2="506.8" y2="398.4" stroke="#7c808c" stroke-width="2.2" stroke-dasharray="1.2 1.4"/>
<line x1="511.4" y1="236.6" x2="511.4" y2="398.4" stroke="#c9c4cc" stroke-width="0.8" stroke-dasharray="1.1 1.6"/>
<path d="M49.9 317.5H49.9V306.5H50.4V312.2H53.5V317.5H59.5V312.2H60.2V317.5H70.9V254.2H71.5V248.4H73.4V242.4H74.6V236.8H75.9V250H76.5V258H78.4V269.2H82.2V275H82.8V282H83.4V289H84V296.4H87.5V312.4H89.4V306.2H92.3V312.4H95.7V317.5H116.4V312.2H118.7V306.6H122.9V317.5H132.3V312.2H132.9V317.5H143.6V313H146.1V307.2H148.3V301.4H151.9V290.6H153.3V317.5H191.1V311.7H196.9V317.5H200.1V306H200.7V317.5H205V311.7H207.3V317.5H213V311.7H213.6V317.5H222.5V306.5H223.1V317.5H234.8V312.3H237.4V306.9H238.7V312.3H241.2V306.9H244.2V303.9H245.7V296.6H250.2V285.4H253.4V290.2H258.8V307.1H265.6V301.4H271.8V296.2H273.8V301.4H276.3V290.5H278V301.4H280.2V317.5H293.6V312.3H298.1V307.1H300V312.3H301.5V317.5H310.6V307.1H311.2V317.5H330.8V314H332.2V311.2H334.4V301.8H337.3V291H339.5V296H340.5V291H342V296H344.5V291H346V296H349.5V301.8H352V291H353.9V306.1H361.8V317.5H364.4V311.6H366.7V307.4H372V303.9H373.2V290.9H374.6V274.9H375.6V290.9H376.4V307.2H376.9V317.5H382.7V312.3H384.3V307.2H386V312.3H389.7V307.2H390.6V302.1H391.4V307.2H393.2V317.5H393.8V306.1H396.4V317.5H413.9V312.2H415.5V317.5H419.3V312.5H421.6V306.8H423.2V312.5H426.6V306.8H428.2V317.5H442.4V302H444.3V296.2H445.6V302H447.5V317.5H448.9V306.8H449.6V312.6H464.75V301.5H466.2V317.5H470V312.6H474.8V317.5H476.3V311.6H477.7V317.5H513V317.5V317.5Z" fill="#fff" fill-opacity="0.2" stroke="none"/>
<path d="M49.9 317.5H49.9V317.5H50.4V322.6H53.5V327.6H54.1V317.5H85.6V323H89.4V317.5H93.8V323H94.7V317.5H109.5V322.8H116.2V317.5H123.4V328H123.9V322.3H132.3V327.6H132.9V322.3H136.8V333.4H143.6V328.2H150.8V323.2H154.4V333.2H157.3V339.2H157.9V333.2H158.7V328.4H160.5V323H166.6V317.5H174.4V322.7H179V317.5H191.1V322.7H196.9V317.5H198V327.9H199.8V322.7H207.3V317.5H209.6V322.7H210.3V317.5H218.2V327.6H220.1V339.1H223.3V333.4H225.2V328.6H234.2V317.5H243.6V338.5H244.2V317.5H252.1V322.5H257.3V317.5H280.3V328.3H284V321.9H287.2V317.5H290.4V321.9H292.3V328.3H296.2V317.5H306.4V322.5H307.4V317.5H313.5V322.5H314.7V328.3H316V322.5H317.3V317.5H320.5V322.2H321.2V317.5H339.6V345H340.8V317.5H352.4V322.7H356V317.5H365.4V322.7H371.2V317.5H374V322.7H374.7V317.5H376.9V333.8H378.9V317.5H382.3V322.3H393.2V317.5H396.4V323.2H411.2V317.5H417V322.9H420.1V317.5H425.1V339.1H428.2V317.5H432.8V328.3H433.4V317.5H444.3V332.7H447.5V317.5H448.4V322.7H450.8V317.5H452.2V322.7H453.7V317.5H464.3V333.3H466.7V317.5H476.6V346.8H477.9V317.5H513V317.5V317.5Z" fill="#fff" fill-opacity="0.2" stroke="none"/>
<path d="M49 317.5H49V317.5H436.6V288.6H448.3V317.5H513V317.5V317.5Z" fill="#fff" fill-opacity="0.2" stroke="none"/>
<path d="M49 317.5H49V317.5H258.5V346.8H262.6V317.5H322.9V346.5H323.6V317.5H459V346.8H459.6V317.5H481.3V346.3H504.6V317.5H504.7V346.3H509.4V317.5H513V317.5V317.5Z" fill="#fff" fill-opacity="0.2" stroke="none"/>
<path d="M49.9 317.5H49.9V306.5H50.4V312.2H53.5V317.5H59.5V312.2H60.2V317.5H70.9V254.2H71.5V248.4H73.4V242.4H74.6V236.8H75.9V250H76.5V258H78.4V269.2H82.2V275H82.8V282H83.4V289H84V296.4H87.5V312.4H89.4V306.2H92.3V312.4H95.7V317.5H116.4V312.2H118.7V306.6H122.9V317.5H132.3V312.2H132.9V317.5H143.6V313H146.1V307.2H148.3V301.4H151.9V290.6H153.3V317.5H191.1V311.7H196.9V317.5H200.1V306H200.7V317.5H205V311.7H207.3V317.5H213V311.7H213.6V317.5H222.5V306.5H223.1V317.5H234.8V312.3H237.4V306.9H238.7V312.3H241.2V306.9H244.2V303.9H245.7V296.6H250.2V285.4H253.4V290.2H258.8V307.1H265.6V301.4H271.8V296.2H273.8V301.4H276.3V290.5H278V301.4H280.2V317.5H293.6V312.3H298.1V307.1H300V312.3H301.5V317.5H310.6V307.1H311.2V317.5H330.8V314H332.2V311.2H334.4V301.8H337.3V291H339.5V296H340.5V291H342V296H344.5V291H346V296H349.5V301.8H352V291H353.9V306.1H361.8V317.5H364.4V311.6H366.7V307.4H372V303.9H373.2V290.9H374.6V274.9H375.6V290.9H376.4V307.2H376.9V317.5H382.7V312.3H384.3V307.2H386V312.3H389.7V307.2H390.6V302.1H391.4V307.2H393.2V317.5H393.8V306.1H396.4V317.5H413.9V312.2H415.5V317.5H419.3V312.5H421.6V306.8H423.2V312.5H426.6V306.8H428.2V317.5H442.4V302H444.3V296.2H445.6V302H447.5V317.5H448.9V306.8H449.6V312.6H464.75V301.5H466.2V317.5H470V312.6H474.8V317.5H476.3V311.6H477.7V317.5H513V317.5" fill="none" stroke="#c8f0c8" stroke-opacity="0.6" stroke-width="3.2"/>
<path d="M49.9 317.5H49.9V317.5H50.4V322.6H53.5V327.6H54.1V317.5H85.6V323H89.4V317.5H93.8V323H94.7V317.5H109.5V322.8H116.2V317.5H123.4V328H123.9V322.3H132.3V327.6H132.9V322.3H136.8V333.4H143.6V328.2H150.8V323.2H154.4V333.2H157.3V339.2H157.9V333.2H158.7V328.4H160.5V323H166.6V317.5H174.4V322.7H179V317.5H191.1V322.7H196.9V317.5H198V327.9H199.8V322.7H207.3V317.5H209.6V322.7H210.3V317.5H218.2V327.6H220.1V339.1H223.3V333.4H225.2V328.6H234.2V317.5H243.6V338.5H244.2V317.5H252.1V322.5H257.3V317.5H280.3V328.3H284V321.9H287.2V317.5H290.4V321.9H292.3V328.3H296.2V317.5H306.4V322.5H307.4V317.5H313.5V322.5H314.7V328.3H316V322.5H317.3V317.5H320.5V322.2H321.2V317.5H339.6V345H340.8V317.5H352.4V322.7H356V317.5H365.4V322.7H371.2V317.5H374V322.7H374.7V317.5H376.9V333.8H378.9V317.5H382.3V322.3H393.2V317.5H396.4V323.2H411.2V317.5H417V322.9H420.1V317.5H425.1V339.1H428.2V317.5H432.8V328.3H433.4V317.5H444.3V332.7H447.5V317.5H448.4V322.7H450.8V317.5H452.2V322.7H453.7V317.5H464.3V333.3H466.7V317.5H476.6V346.8H477.9V317.5H513V317.5" fill="none" stroke="#c8f0c8" stroke-opacity="0.6" stroke-width="3.2"/>
<polygon points="470,317.5 474.8,317.5 474.8,312.6 470,312.6" fill="#3a9d40" fill-opacity="0.85"/>
<polygon points="464.3,317.5 466.7,317.5 466.7,333.3 464.3,333.3" fill="#3a9d40" fill-opacity="0.85"/>
<polygon points="464.75,317.5 466.2,317.5 466.2,301.5 464.75,301.5" fill="#3a9d40" fill-opacity="0.85"/>
<polygon points="448.4,317.5 450.8,317.5 450.8,322.7 448.4,322.7" fill="#3a9d40" fill-opacity="0.85"/>
<polygon points="425.1,317.5 428.2,317.5 428.2,339.1 425.1,339.1" fill="#3a9d40" fill-opacity="0.85"/>
<polygon points="376.9,317.5 378.9,317.5 378.9,333.8 376.9,333.8" fill="#3a9d40" fill-opacity="0.85"/>
<polygon points="382.3,317.5 384.3,317.5 384.3,322.3 382.3,322.3" fill="#3a9d40" fill-opacity="0.85"/>
<polygon points="337,317.5 337,291 338.6,291 338.6,295.5 341,295.5 341,291 343.2,291 343.2,317.5" fill="#3a9d40" fill-opacity="0.85"/>
<polygon points="337.6,317.5 342.4,317.5 340.7,344.7 339.5,344.7" fill="#3a9d40" fill-opacity="0.85"/>
<polygon points="191.1,312.1 197.6,312.1 197.6,322.1 191.1,322.1" fill="#3a9d40" fill-opacity="0.85"/>
<polygon points="204.8,312.1 207.5,312.1 207.5,317.5 204.8,317.5" fill="#3a9d40" fill-opacity="0.85"/>
<polygon points="441.8,302.4 442.6,302.4 442.6,296.4 445,296.4 445,302.4 445.7,302.4 445.7,312.8 441.8,312.8" fill="#3a9d40" fill-opacity="0.85"/>
<polygon points="443,317.5 447.8,317.5 447.8,333.1 444.4,333.1" fill="#3a9d40" fill-opacity="0.85"/>
<path d="M49.9 317.5H49.9V306.5H50.4V312.2H53.5V317.5H59.5V312.2H60.2V317.5H70.9V254.2H71.5V248.4H73.4V242.4H74.6V236.8H75.9V250H76.5V258H78.4V269.2H82.2V275H82.8V282H83.4V289H84V296.4H87.5V312.4H89.4V306.2H92.3V312.4H95.7V317.5H116.4V312.2H118.7V306.6H122.9V317.5H132.3V312.2H132.9V317.5H143.6V313H146.1V307.2H148.3V301.4H151.9V290.6H153.3V317.5H191.1V311.7H196.9V317.5H200.1V306H200.7V317.5H205V311.7H207.3V317.5H213V311.7H213.6V317.5H222.5V306.5H223.1V317.5H234.8V312.3H237.4V306.9H238.7V312.3H241.2V306.9H244.2V303.9H245.7V296.6H250.2V285.4H253.4V290.2H258.8V307.1H265.6V301.4H271.8V296.2H273.8V301.4H276.3V290.5H278V301.4H280.2V317.5H293.6V312.3H298.1V307.1H300V312.3H301.5V317.5H310.6V307.1H311.2V317.5H330.8V314H332.2V311.2H334.4V301.8H337.3V291H339.5V296H340.5V291H342V296H344.5V291H346V296H349.5V301.8H352V291H353.9V306.1H361.8V317.5H364.4V311.6H366.7V307.4H372V303.9H373.2V290.9H374.6V274.9H375.6V290.9H376.4V307.2H376.9V317.5H382.7V312.3H384.3V307.2H386V312.3H389.7V307.2H390.6V302.1H391.4V307.2H393.2V317.5H393.8V306.1H396.4V317.5H413.9V312.2H415.5V317.5H419.3V312.5H421.6V306.8H423.2V312.5H426.6V306.8H428.2V317.5H442.4V302H444.3V296.2H445.6V302H447.5V317.5H448.9V306.8H449.6V312.6H464.75V301.5H466.2V317.5H470V312.6H474.8V317.5H476.3V311.6H477.7V317.5H513V317.5" fill="none" stroke="#3a9d40" stroke-width="1.25" stroke-linejoin="miter"/>
<path d="M49.9 317.5H49.9V317.5H50.4V322.6H53.5V327.6H54.1V317.5H85.6V323H89.4V317.5H93.8V323H94.7V317.5H109.5V322.8H116.2V317.5H123.4V328H123.9V322.3H132.3V327.6H132.9V322.3H136.8V333.4H143.6V328.2H150.8V323.2H154.4V333.2H157.3V339.2H157.9V333.2H158.7V328.4H160.5V323H166.6V317.5H174.4V322.7H179V317.5H191.1V322.7H196.9V317.5H198V327.9H199.8V322.7H207.3V317.5H209.6V322.7H210.3V317.5H218.2V327.6H220.1V339.1H223.3V333.4H225.2V328.6H234.2V317.5H243.6V338.5H244.2V317.5H252.1V322.5H257.3V317.5H280.3V328.3H284V321.9H287.2V317.5H290.4V321.9H292.3V328.3H296.2V317.5H306.4V322.5H307.4V317.5H313.5V322.5H314.7V328.3H316V322.5H317.3V317.5H320.5V322.2H321.2V317.5H339.6V345H340.8V317.5H352.4V322.7H356V317.5H365.4V322.7H371.2V317.5H374V322.7H374.7V317.5H376.9V333.8H378.9V317.5H382.3V322.3H393.2V317.5H396.4V323.2H411.2V317.5H417V322.9H420.1V317.5H425.1V339.1H428.2V317.5H432.8V328.3H433.4V317.5H444.3V332.7H447.5V317.5H448.4V322.7H450.8V317.5H452.2V322.7H453.7V317.5H464.3V333.3H466.7V317.5H476.6V346.8H477.9V317.5H513V317.5" fill="none" stroke="#3a9d40" stroke-width="1.25" stroke-linejoin="miter"/>
<path d="M49 317.5H49V317.5H436.6V288.6H448.3V317.5H513V317.5" fill="none" stroke="#3e1f4c" stroke-width="1.3"/>
<path d="M49 317.5H49V317.5H258.5V346.8H262.6V317.5H322.9V346.5H323.6V317.5H459V346.8H459.6V317.5H481.3V346.3H504.6V317.5H504.7V346.3H509.4V317.5H513V317.5" fill="none" stroke="#3e1f4c" stroke-width="1.3"/>
<line x1="49" y1="317.5" x2="513.5" y2="317.5" stroke="#1c1424" stroke-width="1.35"/>
<line x1="46.5" y1="233.8" x2="46.5" y2="401.4" stroke="#1a1a1a" stroke-width="1.1"/>
<line x1="43.5" y1="236.66" x2="46.5" y2="236.66" stroke="#1a1a1a" stroke-width="1"/>
<text transform="translate(40.6 239.01) scale(0.95 1)" text-anchor="end" font-size="6.5" fill="#3a3a3a" stroke="#3a3a3a" stroke-width="0.12" font-family="Liberation Sans, sans-serif">40%</text>
<line x1="43.5" y1="256.87" x2="46.5" y2="256.87" stroke="#1a1a1a" stroke-width="1"/>
<text transform="translate(40.6 259.22) scale(0.95 1)" text-anchor="end" font-size="6.5" fill="#3a3a3a" stroke="#3a3a3a" stroke-width="0.12" font-family="Liberation Sans, sans-serif">30%</text>
<line x1="43.5" y1="277.08" x2="46.5" y2="277.08" stroke="#1a1a1a" stroke-width="1"/>
<text transform="translate(40.6 279.43) scale(0.95 1)" text-anchor="end" font-size="6.5" fill="#3a3a3a" stroke="#3a3a3a" stroke-width="0.12" font-family="Liberation Sans, sans-serif">20%</text>
<line x1="43.5" y1="297.29" x2="46.5" y2="297.29" stroke="#1a1a1a" stroke-width="1"/>
<text transform="translate(40.6 299.64) scale(0.95 1)" text-anchor="end" font-size="6.5" fill="#3a3a3a" stroke="#3a3a3a" stroke-width="0.12" font-family="Liberation Sans, sans-serif">10%</text>
<line x1="43.5" y1="317.5" x2="46.5" y2="317.5" stroke="#1a1a1a" stroke-width="1"/>
<text transform="translate(40.6 319.85) scale(0.95 1)" text-anchor="end" font-size="6.5" fill="#3a3a3a" stroke="#3a3a3a" stroke-width="0.12" font-family="Liberation Sans, sans-serif">0%</text>
<line x1="43.5" y1="337.71" x2="46.5" y2="337.71" stroke="#1a1a1a" stroke-width="1"/>
<text transform="translate(40.6 340.06) scale(0.95 1)" text-anchor="end" font-size="6.5" fill="#3a3a3a" stroke="#3a3a3a" stroke-width="0.12" font-family="Liberation Sans, sans-serif">10%</text>
<line x1="43.5" y1="357.92" x2="46.5" y2="357.92" stroke="#1a1a1a" stroke-width="1"/>
<text transform="translate(40.6 360.27) scale(0.95 1)" text-anchor="end" font-size="6.5" fill="#3a3a3a" stroke="#3a3a3a" stroke-width="0.12" font-family="Liberation Sans, sans-serif">20%</text>
<line x1="43.5" y1="378.13" x2="46.5" y2="378.13" stroke="#1a1a1a" stroke-width="1"/>
<text transform="translate(40.6 380.48) scale(0.95 1)" text-anchor="end" font-size="6.5" fill="#3a3a3a" stroke="#3a3a3a" stroke-width="0.12" font-family="Liberation Sans, sans-serif">30%</text>
<line x1="43.5" y1="398.34" x2="46.5" y2="398.34" stroke="#1a1a1a" stroke-width="1"/>
<text transform="translate(40.6 400.69) scale(0.95 1)" text-anchor="end" font-size="6.5" fill="#3a3a3a" stroke="#3a3a3a" stroke-width="0.12" font-family="Liberation Sans, sans-serif">40%</text>
<text transform="translate(68.53 407.7) scale(0.92 1)" text-anchor="middle" font-size="6.9" fill="#3a3a3a" stroke="#3a3a3a" stroke-width="0.12" font-family="Liberation Sans, sans-serif">1</text>
<text transform="translate(105.45 407.7) scale(0.92 1)" text-anchor="middle" font-size="6.9" fill="#3a3a3a" stroke="#3a3a3a" stroke-width="0.12" font-family="Liberation Sans, sans-serif">2</text>
<text transform="translate(138.52 407.7) scale(0.92 1)" text-anchor="middle" font-size="6.9" fill="#3a3a3a" stroke="#3a3a3a" stroke-width="0.12" font-family="Liberation Sans, sans-serif">3</text>
<text transform="translate(167.7 407.7) scale(0.92 1)" text-anchor="middle" font-size="6.9" fill="#3a3a3a" stroke="#3a3a3a" stroke-width="0.12" font-family="Liberation Sans, sans-serif">4</text>
<text transform="translate(195.59 407.7) scale(0.92 1)" text-anchor="middle" font-size="6.9" fill="#3a3a3a" stroke="#3a3a3a" stroke-width="0.12" font-family="Liberation Sans, sans-serif">5</text>
<text transform="translate(221.99 407.7) scale(0.92 1)" text-anchor="middle" font-size="6.9" fill="#3a3a3a" stroke="#3a3a3a" stroke-width="0.12" font-family="Liberation Sans, sans-serif">6</text>
<text transform="translate(246.75 407.7) scale(0.92 1)" text-anchor="middle" font-size="6.9" fill="#3a3a3a" stroke="#3a3a3a" stroke-width="0.12" font-family="Liberation Sans, sans-serif">7</text>
<text transform="translate(269.65 407.7) scale(0.92 1)" text-anchor="middle" font-size="6.9" fill="#3a3a3a" stroke="#3a3a3a" stroke-width="0.12" font-family="Liberation Sans, sans-serif">8</text>
<text transform="translate(291.21 407.7) scale(0.92 1)" text-anchor="middle" font-size="6.9" fill="#3a3a3a" stroke="#3a3a3a" stroke-width="0.12" font-family="Liberation Sans, sans-serif">9</text>
<text transform="translate(311.96 407.7) scale(0.92 1)" text-anchor="middle" font-size="6.9" fill="#3a3a3a" stroke="#3a3a3a" stroke-width="0.12" font-family="Liberation Sans, sans-serif">10</text>
<text transform="translate(332.24 407.7) scale(0.92 1)" text-anchor="middle" font-size="6.9" fill="#3a3a3a" stroke="#3a3a3a" stroke-width="0.12" font-family="Liberation Sans, sans-serif">11</text>
<text transform="translate(352.39 407.7) scale(0.92 1)" text-anchor="middle" font-size="6.9" fill="#3a3a3a" stroke="#3a3a3a" stroke-width="0.12" font-family="Liberation Sans, sans-serif">12</text>
<text transform="translate(371.06 407.7) scale(0.92 1)" text-anchor="middle" font-size="6.9" fill="#3a3a3a" stroke="#3a3a3a" stroke-width="0.12" font-family="Liberation Sans, sans-serif">13</text>
<text transform="translate(387.75 407.7) scale(0.92 1)" text-anchor="middle" font-size="6.9" fill="#3a3a3a" stroke="#3a3a3a" stroke-width="0.12" font-family="Liberation Sans, sans-serif">14</text>
<text transform="translate(403.48 407.7) scale(0.92 1)" text-anchor="middle" font-size="6.9" fill="#3a3a3a" stroke="#3a3a3a" stroke-width="0.12" font-family="Liberation Sans, sans-serif">15</text>
<text transform="translate(417.94 407.7) scale(0.92 1)" text-anchor="middle" font-size="6.9" fill="#3a3a3a" stroke="#3a3a3a" stroke-width="0.12" font-family="Liberation Sans, sans-serif">16</text>
<text transform="translate(430.8 407.7) scale(0.92 1)" text-anchor="middle" font-size="6.9" fill="#3a3a3a" stroke="#3a3a3a" stroke-width="0.12" font-family="Liberation Sans, sans-serif">17</text>
<text transform="translate(442.74 407.7) scale(0.92 1)" text-anchor="middle" font-size="6.9" fill="#3a3a3a" stroke="#3a3a3a" stroke-width="0.12" font-family="Liberation Sans, sans-serif">18</text>
<text transform="translate(453.03 407.7) scale(0.92 1)" text-anchor="middle" font-size="6.9" fill="#3a3a3a" stroke="#3a3a3a" stroke-width="0.12" font-family="Liberation Sans, sans-serif">19</text>
<text transform="translate(462.19 407.7) scale(0.92 1)" text-anchor="middle" font-size="6.9" fill="#3a3a3a" stroke="#3a3a3a" stroke-width="0.12" font-family="Liberation Sans, sans-serif">20</text>
<text transform="translate(470.52 407.7) scale(0.92 1)" text-anchor="middle" font-size="6.9" fill="#3a3a3a" stroke="#3a3a3a" stroke-width="0.12" font-family="Liberation Sans, sans-serif">21</text>
<text transform="translate(477.98 407.7) scale(0.92 1)" text-anchor="middle" font-size="6.9" fill="#3a3a3a" stroke="#3a3a3a" stroke-width="0.12" font-family="Liberation Sans, sans-serif">22</text>
<text transform="translate(493.46 407.7) scale(0.92 1)" text-anchor="middle" font-size="6.9" fill="#3a3a3a" stroke="#3a3a3a" stroke-width="0.12" font-family="Liberation Sans, sans-serif">X</text>
<text transform="translate(509.55 407.7) scale(0.92 1)" text-anchor="middle" font-size="6.9" fill="#3a3a3a" stroke="#3a3a3a" stroke-width="0.12" font-family="Liberation Sans, sans-serif">Y</text>
<circle cx="83.5" cy="241.1" r="1.25" fill="#1a1830"/>
<text x="8.0" y="224.8" font-size="10.6" font-weight="bold" fill="#000" stroke="#000" stroke-width="0.45" font-family="Liberation Sans, sans-serif">B</text>
<rect x="221.6" y="222.7" width="11" height="7.1" fill="#661c75" stroke="#3a0c40" stroke-width="0.8"/>
<text x="235.9" y="229.2" font-size="6.8" fill="#333" textLength="41.2" lengthAdjust="spacingAndGlyphs" font-family="Liberation Sans, sans-serif">PTLD-BL (n=7)</text>
<rect x="286.4" y="222.8" width="10.4" height="7.1" fill="#33ad33" stroke="#227a2a" stroke-width="0.8"/>
<text x="300.9" y="229.2" font-size="6.8" fill="#333" textLength="41.2" lengthAdjust="spacingAndGlyphs" font-family="Liberation Sans, sans-serif">IMC-BL (n=38)</text>
<rect x="49" y="445.5" width="38.21" height="161.7" fill="#d5e7f7"/>
<rect x="87.21" y="445.5" width="36.47" height="161.7" fill="#e2dfe4"/>
<rect x="123.68" y="445.5" width="29.69" height="161.7" fill="#d5e7f7"/>
<rect x="153.37" y="445.5" width="28.66" height="161.7" fill="#e2dfe4"/>
<rect x="182.03" y="445.5" width="27.13" height="161.7" fill="#d5e7f7"/>
<rect x="209.16" y="445.5" width="25.66" height="161.7" fill="#e2dfe4"/>
<rect x="234.81" y="445.5" width="23.86" height="161.7" fill="#d5e7f7"/>
<rect x="258.68" y="445.5" width="21.95" height="161.7" fill="#e2dfe4"/>
<rect x="280.62" y="445.5" width="21.17" height="161.7" fill="#d5e7f7"/>
<rect x="301.8" y="445.5" width="20.32" height="161.7" fill="#e2dfe4"/>
<rect x="322.12" y="445.5" width="20.24" height="161.7" fill="#d5e7f7"/>
<rect x="342.36" y="445.5" width="20.07" height="161.7" fill="#e2dfe4"/>
<rect x="362.43" y="445.5" width="17.27" height="161.7" fill="#d5e7f7"/>
<rect x="379.7" y="445.5" width="16.1" height="161.7" fill="#e2dfe4"/>
<rect x="395.79" y="445.5" width="15.37" height="161.7" fill="#d5e7f7"/>
<rect x="411.17" y="445.5" width="13.55" height="161.7" fill="#e2dfe4"/>
<rect x="424.72" y="445.5" width="12.17" height="161.7" fill="#d5e7f7"/>
<rect x="436.89" y="445.5" width="11.71" height="161.7" fill="#e2dfe4"/>
<rect x="448.6" y="445.5" width="8.87" height="161.7" fill="#d5e7f7"/>
<rect x="457.46" y="445.5" width="9.45" height="161.7" fill="#e2dfe4"/>
<rect x="466.91" y="445.5" width="7.22" height="161.7" fill="#d5e7f7"/>
<rect x="474.13" y="445.5" width="7.69" height="161.7" fill="#e2dfe4"/>
<rect x="481.82" y="445.5" width="23.28" height="161.7" fill="#d5e7f7"/>
<rect x="505.1" y="445.5" width="7.5" height="161.7" fill="#e2dfe4"/>
<line x1="87.21" y1="445.5" x2="87.21" y2="607.2" stroke="#fff" stroke-opacity="0.5" stroke-width="3.4"/>
<line x1="123.68" y1="445.5" x2="123.68" y2="607.2" stroke="#fff" stroke-opacity="0.5" stroke-width="3.4"/>
<line x1="153.37" y1="445.5" x2="153.37" y2="607.2" stroke="#fff" stroke-opacity="0.5" stroke-width="3.4"/>
<line x1="182.03" y1="445.5" x2="182.03" y2="607.2" stroke="#fff" stroke-opacity="0.5" stroke-width="3.4"/>
<line x1="209.16" y1="445.5" x2="209.16" y2="607.2" stroke="#fff" stroke-opacity="0.5" stroke-width="3.4"/>
<line x1="234.81" y1="445.5" x2="234.81" y2="607.2" stroke="#fff" stroke-opacity="0.5" stroke-width="3.4"/>
<line x1="258.68" y1="445.5" x2="258.68" y2="607.2" stroke="#fff" stroke-opacity="0.5" stroke-width="3.4"/>
<line x1="280.62" y1="445.5" x2="280.62" y2="607.2" stroke="#fff" stroke-opacity="0.5" stroke-width="3.4"/>
<line x1="301.8" y1="445.5" x2="301.8" y2="607.2" stroke="#fff" stroke-opacity="0.5" stroke-width="3.4"/>
<line x1="322.12" y1="445.5" x2="322.12" y2="607.2" stroke="#fff" stroke-opacity="0.5" stroke-width="3.4"/>
<line x1="342.36" y1="445.5" x2="342.36" y2="607.2" stroke="#fff" stroke-opacity="0.5" stroke-width="3.4"/>
<line x1="362.43" y1="445.5" x2="362.43" y2="607.2" stroke="#fff" stroke-opacity="0.5" stroke-width="3.4"/>
<line x1="379.7" y1="445.5" x2="379.7" y2="607.2" stroke="#fff" stroke-opacity="0.5" stroke-width="3.4"/>
<line x1="395.79" y1="445.5" x2="395.79" y2="607.2" stroke="#fff" stroke-opacity="0.5" stroke-width="3.4"/>
<line x1="411.17" y1="445.5" x2="411.17" y2="607.2" stroke="#fff" stroke-opacity="0.5" stroke-width="3.4"/>
<line x1="424.72" y1="445.5" x2="424.72" y2="607.2" stroke="#fff" stroke-opacity="0.5" stroke-width="3.4"/>
<line x1="436.89" y1="445.5" x2="436.89" y2="607.2" stroke="#fff" stroke-opacity="0.5" stroke-width="3.4"/>
<line x1="448.6" y1="445.5" x2="448.6" y2="607.2" stroke="#fff" stroke-opacity="0.5" stroke-width="3.4"/>
<line x1="457.46" y1="445.5" x2="457.46" y2="607.2" stroke="#fff" stroke-opacity="0.5" stroke-width="3.4"/>
<line x1="466.91" y1="445.5" x2="466.91" y2="607.2" stroke="#fff" stroke-opacity="0.5" stroke-width="3.4"/>
<line x1="474.13" y1="445.5" x2="474.13" y2="607.2" stroke="#fff" stroke-opacity="0.5" stroke-width="3.4"/>
<line x1="481.82" y1="445.5" x2="481.82" y2="607.2" stroke="#fff" stroke-opacity="0.5" stroke-width="3.4"/>
<line x1="505.1" y1="445.5" x2="505.1" y2="607.2" stroke="#fff" stroke-opacity="0.5" stroke-width="3.4"/>
<line x1="68.58" y1="445.5" x2="68.58" y2="607.2" stroke="#fff" stroke-opacity="0.3" stroke-width="2.8"/>
<line x1="101.2" y1="445.5" x2="101.2" y2="607.2" stroke="#fff" stroke-opacity="0.3" stroke-width="2.8"/>
<line x1="137.32" y1="445.5" x2="137.32" y2="607.2" stroke="#fff" stroke-opacity="0.3" stroke-width="2.8"/>
<line x1="160.93" y1="445.5" x2="160.93" y2="607.2" stroke="#fff" stroke-opacity="0.3" stroke-width="2.8"/>
<line x1="189.29" y1="445.5" x2="189.29" y2="607.2" stroke="#fff" stroke-opacity="0.3" stroke-width="2.8"/>
<line x1="218.3" y1="445.5" x2="218.3" y2="607.2" stroke="#fff" stroke-opacity="0.3" stroke-width="2.8"/>
<line x1="243.8" y1="445.5" x2="243.8" y2="607.2" stroke="#fff" stroke-opacity="0.3" stroke-width="2.8"/>
<line x1="265.51" y1="445.5" x2="265.51" y2="607.2" stroke="#fff" stroke-opacity="0.3" stroke-width="2.8"/>
<line x1="287.97" y1="445.5" x2="287.97" y2="607.2" stroke="#fff" stroke-opacity="0.3" stroke-width="2.8"/>
<line x1="307.82" y1="445.5" x2="307.82" y2="607.2" stroke="#fff" stroke-opacity="0.3" stroke-width="2.8"/>
<line x1="330.17" y1="445.5" x2="330.17" y2="607.2" stroke="#fff" stroke-opacity="0.3" stroke-width="2.8"/>
<line x1="347.73" y1="445.5" x2="347.73" y2="607.2" stroke="#fff" stroke-opacity="0.3" stroke-width="2.8"/>
<line x1="365.11" y1="445.5" x2="365.11" y2="607.2" stroke="#fff" stroke-opacity="0.3" stroke-width="2.8"/>
<line x1="382.34" y1="445.5" x2="382.34" y2="607.2" stroke="#fff" stroke-opacity="0.3" stroke-width="2.8"/>
<line x1="398.64" y1="445.5" x2="398.64" y2="607.2" stroke="#fff" stroke-opacity="0.3" stroke-width="2.8"/>
<line x1="416.66" y1="445.5" x2="416.66" y2="607.2" stroke="#fff" stroke-opacity="0.3" stroke-width="2.8"/>
<line x1="428.31" y1="445.5" x2="428.31" y2="607.2" stroke="#fff" stroke-opacity="0.3" stroke-width="2.8"/>
<line x1="439.47" y1="445.5" x2="439.47" y2="607.2" stroke="#fff" stroke-opacity="0.3" stroke-width="2.8"/>
<line x1="452.57" y1="445.5" x2="452.57" y2="607.2" stroke="#fff" stroke-opacity="0.3" stroke-width="2.8"/>
<line x1="461.59" y1="445.5" x2="461.59" y2="607.2" stroke="#fff" stroke-opacity="0.3" stroke-width="2.8"/>
<line x1="468.89" y1="445.5" x2="468.89" y2="607.2" stroke="#fff" stroke-opacity="0.3" stroke-width="2.8"/>
<line x1="476.33" y1="445.5" x2="476.33" y2="607.2" stroke="#fff" stroke-opacity="0.3" stroke-width="2.8"/>
<line x1="490.91" y1="445.5" x2="490.91" y2="607.2" stroke="#fff" stroke-opacity="0.3" stroke-width="2.8"/>
<line x1="87.21" y1="445.5" x2="87.21" y2="607.2" stroke="#767b86" stroke-width="1.25"/>
<line x1="123.68" y1="445.5" x2="123.68" y2="607.2" stroke="#767b86" stroke-width="1.25"/>
<line x1="153.37" y1="445.5" x2="153.37" y2="607.2" stroke="#767b86" stroke-width="1.25"/>
<line x1="182.03" y1="445.5" x2="182.03" y2="607.2" stroke="#767b86" stroke-width="1.25"/>
<line x1="209.16" y1="445.5" x2="209.16" y2="607.2" stroke="#767b86" stroke-width="1.25"/>
<line x1="234.81" y1="445.5" x2="234.81" y2="607.2" stroke="#767b86" stroke-width="1.25"/>
<line x1="258.68" y1="445.5" x2="258.68" y2="607.2" stroke="#767b86" stroke-width="1.25"/>
<line x1="280.62" y1="445.5" x2="280.62" y2="607.2" stroke="#767b86" stroke-width="1.25"/>
<line x1="301.8" y1="445.5" x2="301.8" y2="607.2" stroke="#767b86" stroke-width="1.25"/>
<line x1="322.12" y1="445.5" x2="322.12" y2="607.2" stroke="#767b86" stroke-width="1.25"/>
<line x1="342.36" y1="445.5" x2="342.36" y2="607.2" stroke="#767b86" stroke-width="1.25"/>
<line x1="362.43" y1="445.5" x2="362.43" y2="607.2" stroke="#767b86" stroke-width="1.25"/>
<line x1="379.7" y1="445.5" x2="379.7" y2="607.2" stroke="#767b86" stroke-width="1.25"/>
<line x1="395.79" y1="445.5" x2="395.79" y2="607.2" stroke="#767b86" stroke-width="1.25"/>
<line x1="411.17" y1="445.5" x2="411.17" y2="607.2" stroke="#767b86" stroke-width="1.25"/>
<line x1="424.72" y1="445.5" x2="424.72" y2="607.2" stroke="#767b86" stroke-width="1.25"/>
<line x1="436.89" y1="445.5" x2="436.89" y2="607.2" stroke="#767b86" stroke-width="1.25"/>
<line x1="448.6" y1="445.5" x2="448.6" y2="607.2" stroke="#767b86" stroke-width="1.25"/>
<line x1="457.46" y1="445.5" x2="457.46" y2="607.2" stroke="#767b86" stroke-width="1.25"/>
<line x1="466.91" y1="445.5" x2="466.91" y2="607.2" stroke="#767b86" stroke-width="1.25"/>
<line x1="474.13" y1="445.5" x2="474.13" y2="607.2" stroke="#767b86" stroke-width="1.25"/>
<line x1="481.82" y1="445.5" x2="481.82" y2="607.2" stroke="#767b86" stroke-width="1.25"/>
<line x1="505.1" y1="445.5" x2="505.1" y2="607.2" stroke="#767b86" stroke-width="1.25"/>
<line x1="68.58" y1="445.5" x2="68.58" y2="607.2" stroke="#3a3e4c" stroke-width="1" stroke-dasharray="1.2 1.2"/>
<line x1="101.2" y1="445.5" x2="101.2" y2="607.2" stroke="#3a3e4c" stroke-width="1" stroke-dasharray="1.2 1.2"/>
<line x1="137.32" y1="445.5" x2="137.32" y2="607.2" stroke="#3a3e4c" stroke-width="1" stroke-dasharray="1.2 1.2"/>
<line x1="160.93" y1="445.5" x2="160.93" y2="607.2" stroke="#3a3e4c" stroke-width="1" stroke-dasharray="1.2 1.2"/>
<line x1="189.29" y1="445.5" x2="189.29" y2="607.2" stroke="#3a3e4c" stroke-width="1" stroke-dasharray="1.2 1.2"/>
<line x1="218.3" y1="445.5" x2="218.3" y2="607.2" stroke="#3a3e4c" stroke-width="1" stroke-dasharray="1.2 1.2"/>
<line x1="243.8" y1="445.5" x2="243.8" y2="607.2" stroke="#3a3e4c" stroke-width="1" stroke-dasharray="1.2 1.2"/>
<line x1="265.51" y1="445.5" x2="265.51" y2="607.2" stroke="#3a3e4c" stroke-width="1" stroke-dasharray="1.2 1.2"/>
<line x1="287.97" y1="445.5" x2="287.97" y2="607.2" stroke="#3a3e4c" stroke-width="1" stroke-dasharray="1.2 1.2"/>
<line x1="307.82" y1="445.5" x2="307.82" y2="607.2" stroke="#3a3e4c" stroke-width="1" stroke-dasharray="1.2 1.2"/>
<line x1="330.17" y1="445.5" x2="330.17" y2="607.2" stroke="#3a3e4c" stroke-width="1" stroke-dasharray="1.2 1.2"/>
<line x1="347.73" y1="445.5" x2="347.73" y2="607.2" stroke="#3a3e4c" stroke-width="1" stroke-dasharray="1.2 1.2"/>
<line x1="365.11" y1="445.5" x2="365.11" y2="607.2" stroke="#3a3e4c" stroke-width="1" stroke-dasharray="1.2 1.2"/>
<line x1="382.34" y1="445.5" x2="382.34" y2="607.2" stroke="#3a3e4c" stroke-width="1" stroke-dasharray="1.2 1.2"/>
<line x1="398.64" y1="445.5" x2="398.64" y2="607.2" stroke="#3a3e4c" stroke-width="1" stroke-dasharray="1.2 1.2"/>
<line x1="416.66" y1="445.5" x2="416.66" y2="607.2" stroke="#3a3e4c" stroke-width="1" stroke-dasharray="1.2 1.2"/>
<line x1="428.31" y1="445.5" x2="428.31" y2="607.2" stroke="#3a3e4c" stroke-width="1" stroke-dasharray="1.2 1.2"/>
<line x1="439.47" y1="445.5" x2="439.47" y2="607.2" stroke="#3a3e4c" stroke-width="1" stroke-dasharray="1.2 1.2"/>
<line x1="452.57" y1="445.5" x2="452.57" y2="607.2" stroke="#3a3e4c" stroke-width="1" stroke-dasharray="1.2 1.2"/>
<line x1="461.59" y1="445.5" x2="461.59" y2="607.2" stroke="#3a3e4c" stroke-width="1" stroke-dasharray="1.2 1.2"/>
<line x1="468.89" y1="445.5" x2="468.89" y2="607.2" stroke="#3a3e4c" stroke-width="1" stroke-dasharray="1.2 1.2"/>
<line x1="476.33" y1="445.5" x2="476.33" y2="607.2" stroke="#3a3e4c" stroke-width="1" stroke-dasharray="1.2 1.2"/>
<line x1="490.91" y1="445.5" x2="490.91" y2="607.2" stroke="#3a3e4c" stroke-width="1" stroke-dasharray="1.2 1.2"/>
<rect x="505.3" y="445.5" width="2.9" height="161.7" fill="#c6c8ce"/>
<line x1="506.8" y1="445.5" x2="506.8" y2="607.2" stroke="#7c808c" stroke-width="2.2" stroke-dasharray="1.2 1.4"/>
<line x1="511.4" y1="445.5" x2="511.4" y2="607.2" stroke="#c9c4cc" stroke-width="0.8" stroke-dasharray="1.1 1.6"/>
<path d="M49 526.3H49V526.3H54.6V517.6H56.8V526.3H60.6V517.6H61.4V526.3H70.5V517H71.4V508H72.6V489.6H72.9V498.6H78.1V489.4H79.3V480.1H80.7V489.4H82.2V498.6H82.4V480.1H84.6V489.4H87.4V526.3H95.9V489.5H97.6V526.3H115.6V517.3H116.4V526.3H121.5V517.3H122.5V526.3H137.7V517.3H139.9V526.3H147.1V517.3H148.2V517.6H151.9V526.3H181.7V508.2H184.6V516.8H202.4V526.3H215V507.6H215.6V526.3H234.9V498.8H242.4V508.4H245.6V490H249.6V498.8H258.3V526.3H273.9V517.2H274.6V526.3H277.1V507.6H277.8V526.3H280.5V489.2H281.3V517.2H290.2V507.6H295.8V517.2H301.4V526.3H331.6V517.7H334.8V508.1H339.1V517.7H341.2V526.3H342V489.5H361.5V526.3H369.5V517.7H370.2V526.3H375.1V517.7H375.8V526.3H423.4V517.2H424.4V526.3H435.6V517.7H438V508.4H447.6V526.3H454.6V517.7H455.3V526.3H467.9V490.2H473V526.3H486.4V517.1H487.1V526.3H513V526.3V526.3Z" fill="#fff" fill-opacity="0.2" stroke="none"/>
<path d="M49 526.3H49V526.3H50.3V554.3H52.5V545H53.9V545H55.4V536.3H56.8V526.3H80V535.5H84.5V535.5H87.3V526.3H94.2V535.6H94.9V526.3H113.6V535.6H116.1V526.3H130.6V535.6H131.3V526.3H138.4V535.6H142.5V526.3H152.9V544.9H158.3V544.9H159.4V526.3H161.6V535.6H168V526.3H194V535.6H202.4V526.3H209.3V535.6H210.1V526.3H218.4V535.6H220.8V554H224V562.8H224.7V554H225.6V535.6H234.4V526.3H283.2V535.6H283.9V526.3H378.6V535.6H389.5V544.4H390.2V535.6H394.6V526.3H398.6V535.6H411.4V526.3H447.6V538.8H448.1V564.4H448.8V538.8H456.4V526.3H480.1V535H481.4V545.3H488.4V535H504.4V526.3H505.7V535H508.3V526.3H513V526.3V526.3Z" fill="#fff" fill-opacity="0.2" stroke="none"/>
<path d="M49 526.3H49V526.3H87.8V517.3H95.9V526.3H123.7V488.4H137.7V501H152.9V526.3H165.2V514H168.3V526.3H181.7V513.3H208.8V517.7H217.6V526.3H258.5V513.2H259.5V526.3H280.6V500.4H290.2V488.4H301.4V526.3H307.8V513.2H310.2V526.3H342V513.5H361.5V526.3H426.5V514H427.4V526.3H440.4V514.8H444.4V526.3H456.4V513.5H466V513.5H467.9V513.5H473V526.3H492.2V513.9H494.2V526.3H513V526.3V526.3Z" fill="#fff" fill-opacity="0.2" stroke="none"/>
<path d="M49 526.3H49V526.3H150.8V537.7H152.5V526.3H168.3V539.2H181.7V526.3H358.6V539.1H359.6V526.3H426.3V538.8H429.2V526.3H449.2V538.8H456.4V526.3H460.4V538.8H466V526.3H513V526.3V526.3Z" fill="#fff" fill-opacity="0.2" stroke="none"/>
<path d="M49 526.3H49V526.3H54.6V517.6H56.8V526.3H60.6V517.6H61.4V526.3H70.5V517H71.4V508H72.6V489.6H72.9V498.6H78.1V489.4H79.3V480.1H80.7V489.4H82.2V498.6H82.4V480.1H84.6V489.4H87.4V526.3H95.9V489.5H97.6V526.3H115.6V517.3H116.4V526.3H121.5V517.3H122.5V526.3H137.7V517.3H139.9V526.3H147.1V517.3H148.2V517.6H151.9V526.3H181.7V508.2H184.6V516.8H202.4V526.3H215V507.6H215.6V526.3H234.9V498.8H242.4V508.4H245.6V490H249.6V498.8H258.3V526.3H273.9V517.2H274.6V526.3H277.1V507.6H277.8V526.3H280.5V489.2H281.3V517.2H290.2V507.6H295.8V517.2H301.4V526.3H331.6V517.7H334.8V508.1H339.1V517.7H341.2V526.3H342V489.5H361.5V526.3H369.5V517.7H370.2V526.3H375.1V517.7H375.8V526.3H423.4V517.2H424.4V526.3H435.6V517.7H438V508.4H447.6V526.3H454.6V517.7H455.3V526.3H467.9V490.2H473V526.3H486.4V517.1H487.1V526.3H513V526.3" fill="none" stroke="#f4f8ff" stroke-opacity="0.55" stroke-width="3.2"/>
<path d="M49 526.3H49V526.3H50.3V554.3H52.5V545H53.9V545H55.4V536.3H56.8V526.3H80V535.5H84.5V535.5H87.3V526.3H94.2V535.6H94.9V526.3H113.6V535.6H116.1V526.3H130.6V535.6H131.3V526.3H138.4V535.6H142.5V526.3H152.9V544.9H158.3V544.9H159.4V526.3H161.6V535.6H168V526.3H194V535.6H202.4V526.3H209.3V535.6H210.1V526.3H218.4V535.6H220.8V554H224V562.8H224.7V554H225.6V535.6H234.4V526.3H283.2V535.6H283.9V526.3H378.6V535.6H389.5V544.4H390.2V535.6H394.6V526.3H398.6V535.6H411.4V526.3H447.6V538.8H448.1V564.4H448.8V538.8H456.4V526.3H480.1V535H481.4V545.3H488.4V535H504.4V526.3H505.7V535H508.3V526.3H513V526.3" fill="none" stroke="#f4f8ff" stroke-opacity="0.55" stroke-width="3.2"/>
<path d="M49 526.3H49V526.3H87.8V517.3H95.9V526.3H123.7V488.4H137.7V501H152.9V526.3H165.2V514H168.3V526.3H181.7V513.3H208.8V517.7H217.6V526.3H258.5V513.2H259.5V526.3H280.6V500.4H290.2V488.4H301.4V526.3H307.8V513.2H310.2V526.3H342V513.5H361.5V526.3H426.5V514H427.4V526.3H440.4V514.8H444.4V526.3H456.4V513.5H466V513.5H467.9V513.5H473V526.3H492.2V513.9H494.2V526.3H513V526.3" fill="none" stroke="#f4f8ff" stroke-opacity="0.55" stroke-width="3.2"/>
<path d="M49 526.3H49V526.3H150.8V537.7H152.5V526.3H168.3V539.2H181.7V526.3H358.6V539.1H359.6V526.3H426.3V538.8H429.2V526.3H449.2V538.8H456.4V526.3H460.4V538.8H466V526.3H513V526.3" fill="none" stroke="#f4f8ff" stroke-opacity="0.55" stroke-width="3.2"/>
<path d="M49 526.3H49V526.3H54.6V517.6H56.8V526.3H60.6V517.6H61.4V526.3H70.5V517H71.4V508H72.6V489.6H72.9V498.6H78.1V489.4H79.3V480.1H80.7V489.4H82.2V498.6H82.4V480.1H84.6V489.4H87.4V526.3H95.9V489.5H97.6V526.3H115.6V517.3H116.4V526.3H121.5V517.3H122.5V526.3H137.7V517.3H139.9V526.3H147.1V517.3H148.2V517.6H151.9V526.3H181.7V508.2H184.6V516.8H202.4V526.3H215V507.6H215.6V526.3H234.9V498.8H242.4V508.4H245.6V490H249.6V498.8H258.3V526.3H273.9V517.2H274.6V526.3H277.1V507.6H277.8V526.3H280.5V489.2H281.3V517.2H290.2V507.6H295.8V517.2H301.4V526.3H331.6V517.7H334.8V508.1H339.1V517.7H341.2V526.3H342V489.5H361.5V526.3H369.5V517.7H370.2V526.3H375.1V517.7H375.8V526.3H423.4V517.2H424.4V526.3H435.6V517.7H438V508.4H447.6V526.3H454.6V517.7H455.3V526.3H467.9V490.2H473V526.3H486.4V517.1H487.1V526.3H513V526.3" fill="none" stroke="#1b3f6c" stroke-width="1.3"/>
<path d="M49 526.3H49V526.3H50.3V554.3H52.5V545H53.9V545H55.4V536.3H56.8V526.3H80V535.5H84.5V535.5H87.3V526.3H94.2V535.6H94.9V526.3H113.6V535.6H116.1V526.3H130.6V535.6H131.3V526.3H138.4V535.6H142.5V526.3H152.9V544.9H158.3V544.9H159.4V526.3H161.6V535.6H168V526.3H194V535.6H202.4V526.3H209.3V535.6H210.1V526.3H218.4V535.6H220.8V554H224V562.8H224.7V554H225.6V535.6H234.4V526.3H283.2V535.6H283.9V526.3H378.6V535.6H389.5V544.4H390.2V535.6H394.6V526.3H398.6V535.6H411.4V526.3H447.6V538.8H448.1V564.4H448.8V538.8H456.4V526.3H480.1V535H481.4V545.3H488.4V535H504.4V526.3H505.7V535H508.3V526.3H513V526.3" fill="none" stroke="#1b3f6c" stroke-width="1.3"/>
<path d="M49 526.3H49V526.3H87.8V517.3H95.9V526.3H123.7V488.4H137.7V501H152.9V526.3H165.2V514H168.3V526.3H181.7V513.3H208.8V517.7H217.6V526.3H258.5V513.2H259.5V526.3H280.6V500.4H290.2V488.4H301.4V526.3H307.8V513.2H310.2V526.3H342V513.5H361.5V526.3H426.5V514H427.4V526.3H440.4V514.8H444.4V526.3H456.4V513.5H466V513.5H467.9V513.5H473V526.3H492.2V513.9H494.2V526.3H513V526.3" fill="none" stroke="#3e1f4c" stroke-width="1.3"/>
<path d="M49 526.3H49V526.3H150.8V537.7H152.5V526.3H168.3V539.2H181.7V526.3H358.6V539.1H359.6V526.3H426.3V538.8H429.2V526.3H449.2V538.8H456.4V526.3H460.4V538.8H466V526.3H513V526.3" fill="none" stroke="#3e1f4c" stroke-width="1.3"/>
<line x1="49" y1="526.3" x2="513.5" y2="526.3" stroke="#48195a" stroke-width="1.25"/>
<line x1="46.5" y1="442.7" x2="46.5" y2="610.2" stroke="#1a1a1a" stroke-width="1.1"/>
<line x1="43.5" y1="445.46" x2="46.5" y2="445.46" stroke="#1a1a1a" stroke-width="1"/>
<text transform="translate(40.6 447.81) scale(0.95 1)" text-anchor="end" font-size="6.5" fill="#3a3a3a" stroke="#3a3a3a" stroke-width="0.12" font-family="Liberation Sans, sans-serif">40%</text>
<line x1="43.5" y1="465.67" x2="46.5" y2="465.67" stroke="#1a1a1a" stroke-width="1"/>
<text transform="translate(40.6 468.02) scale(0.95 1)" text-anchor="end" font-size="6.5" fill="#3a3a3a" stroke="#3a3a3a" stroke-width="0.12" font-family="Liberation Sans, sans-serif">30%</text>
<line x1="43.5" y1="485.88" x2="46.5" y2="485.88" stroke="#1a1a1a" stroke-width="1"/>
<text transform="translate(40.6 488.23) scale(0.95 1)" text-anchor="end" font-size="6.5" fill="#3a3a3a" stroke="#3a3a3a" stroke-width="0.12" font-family="Liberation Sans, sans-serif">20%</text>
<line x1="43.5" y1="506.09" x2="46.5" y2="506.09" stroke="#1a1a1a" stroke-width="1"/>
<text transform="translate(40.6 508.44) scale(0.95 1)" text-anchor="end" font-size="6.5" fill="#3a3a3a" stroke="#3a3a3a" stroke-width="0.12" font-family="Liberation Sans, sans-serif">10%</text>
<line x1="43.5" y1="526.3" x2="46.5" y2="526.3" stroke="#1a1a1a" stroke-width="1"/>
<text transform="translate(40.6 528.65) scale(0.95 1)" text-anchor="end" font-size="6.5" fill="#3a3a3a" stroke="#3a3a3a" stroke-width="0.12" font-family="Liberation Sans, sans-serif">0%</text>
<line x1="43.5" y1="546.51" x2="46.5" y2="546.51" stroke="#1a1a1a" stroke-width="1"/>
<text transform="translate(40.6 548.86) scale(0.95 1)" text-anchor="end" font-size="6.5" fill="#3a3a3a" stroke="#3a3a3a" stroke-width="0.12" font-family="Liberation Sans, sans-serif">10%</text>
<line x1="43.5" y1="566.72" x2="46.5" y2="566.72" stroke="#1a1a1a" stroke-width="1"/>
<text transform="translate(40.6 569.07) scale(0.95 1)" text-anchor="end" font-size="6.5" fill="#3a3a3a" stroke="#3a3a3a" stroke-width="0.12" font-family="Liberation Sans, sans-serif">20%</text>
<line x1="43.5" y1="586.93" x2="46.5" y2="586.93" stroke="#1a1a1a" stroke-width="1"/>
<text transform="translate(40.6 589.28) scale(0.95 1)" text-anchor="end" font-size="6.5" fill="#3a3a3a" stroke="#3a3a3a" stroke-width="0.12" font-family="Liberation Sans, sans-serif">30%</text>
<line x1="43.5" y1="607.14" x2="46.5" y2="607.14" stroke="#1a1a1a" stroke-width="1"/>
<text transform="translate(40.6 609.49) scale(0.95 1)" text-anchor="end" font-size="6.5" fill="#3a3a3a" stroke="#3a3a3a" stroke-width="0.12" font-family="Liberation Sans, sans-serif">40%</text>
<text transform="translate(68.53 616.5) scale(0.92 1)" text-anchor="middle" font-size="6.9" fill="#3a3a3a" stroke="#3a3a3a" stroke-width="0.12" font-family="Liberation Sans, sans-serif">1</text>
<text transform="translate(105.45 616.5) scale(0.92 1)" text-anchor="middle" font-size="6.9" fill="#3a3a3a" stroke="#3a3a3a" stroke-width="0.12" font-family="Liberation Sans, sans-serif">2</text>
<text transform="translate(138.52 616.5) scale(0.92 1)" text-anchor="middle" font-size="6.9" fill="#3a3a3a" stroke="#3a3a3a" stroke-width="0.12" font-family="Liberation Sans, sans-serif">3</text>
<text transform="translate(167.7 616.5) scale(0.92 1)" text-anchor="middle" font-size="6.9" fill="#3a3a3a" stroke="#3a3a3a" stroke-width="0.12" font-family="Liberation Sans, sans-serif">4</text>
<text transform="translate(195.59 616.5) scale(0.92 1)" text-anchor="middle" font-size="6.9" fill="#3a3a3a" stroke="#3a3a3a" stroke-width="0.12" font-family="Liberation Sans, sans-serif">5</text>
<text transform="translate(221.99 616.5) scale(0.92 1)" text-anchor="middle" font-size="6.9" fill="#3a3a3a" stroke="#3a3a3a" stroke-width="0.12" font-family="Liberation Sans, sans-serif">6</text>
<text transform="translate(246.75 616.5) scale(0.92 1)" text-anchor="middle" font-size="6.9" fill="#3a3a3a" stroke="#3a3a3a" stroke-width="0.12" font-family="Liberation Sans, sans-serif">7</text>
<text transform="translate(269.65 616.5) scale(0.92 1)" text-anchor="middle" font-size="6.9" fill="#3a3a3a" stroke="#3a3a3a" stroke-width="0.12" font-family="Liberation Sans, sans-serif">8</text>
<text transform="translate(291.21 616.5) scale(0.92 1)" text-anchor="middle" font-size="6.9" fill="#3a3a3a" stroke="#3a3a3a" stroke-width="0.12" font-family="Liberation Sans, sans-serif">9</text>
<text transform="translate(311.96 616.5) scale(0.92 1)" text-anchor="middle" font-size="6.9" fill="#3a3a3a" stroke="#3a3a3a" stroke-width="0.12" font-family="Liberation Sans, sans-serif">10</text>
<text transform="translate(332.24 616.5) scale(0.92 1)" text-anchor="middle" font-size="6.9" fill="#3a3a3a" stroke="#3a3a3a" stroke-width="0.12" font-family="Liberation Sans, sans-serif">11</text>
<text transform="translate(352.39 616.5) scale(0.92 1)" text-anchor="middle" font-size="6.9" fill="#3a3a3a" stroke="#3a3a3a" stroke-width="0.12" font-family="Liberation Sans, sans-serif">12</text>
<text transform="translate(371.06 616.5) scale(0.92 1)" text-anchor="middle" font-size="6.9" fill="#3a3a3a" stroke="#3a3a3a" stroke-width="0.12" font-family="Liberation Sans, sans-serif">13</text>
<text transform="translate(387.75 616.5) scale(0.92 1)" text-anchor="middle" font-size="6.9" fill="#3a3a3a" stroke="#3a3a3a" stroke-width="0.12" font-family="Liberation Sans, sans-serif">14</text>
<text transform="translate(403.48 616.5) scale(0.92 1)" text-anchor="middle" font-size="6.9" fill="#3a3a3a" stroke="#3a3a3a" stroke-width="0.12" font-family="Liberation Sans, sans-serif">15</text>
<text transform="translate(417.94 616.5) scale(0.92 1)" text-anchor="middle" font-size="6.9" fill="#3a3a3a" stroke="#3a3a3a" stroke-width="0.12" font-family="Liberation Sans, sans-serif">16</text>
<text transform="translate(430.8 616.5) scale(0.92 1)" text-anchor="middle" font-size="6.9" fill="#3a3a3a" stroke="#3a3a3a" stroke-width="0.12" font-family="Liberation Sans, sans-serif">17</text>
<text transform="translate(442.74 616.5) scale(0.92 1)" text-anchor="middle" font-size="6.9" fill="#3a3a3a" stroke="#3a3a3a" stroke-width="0.12" font-family="Liberation Sans, sans-serif">18</text>
<text transform="translate(453.03 616.5) scale(0.92 1)" text-anchor="middle" font-size="6.9" fill="#3a3a3a" stroke="#3a3a3a" stroke-width="0.12" font-family="Liberation Sans, sans-serif">19</text>
<text transform="translate(462.19 616.5) scale(0.92 1)" text-anchor="middle" font-size="6.9" fill="#3a3a3a" stroke="#3a3a3a" stroke-width="0.12" font-family="Liberation Sans, sans-serif">20</text>
<text transform="translate(470.52 616.5) scale(0.92 1)" text-anchor="middle" font-size="6.9" fill="#3a3a3a" stroke="#3a3a3a" stroke-width="0.12" font-family="Liberation Sans, sans-serif">21</text>
<text transform="translate(477.98 616.5) scale(0.92 1)" text-anchor="middle" font-size="6.9" fill="#3a3a3a" stroke="#3a3a3a" stroke-width="0.12" font-family="Liberation Sans, sans-serif">22</text>
<text transform="translate(493.46 616.5) scale(0.92 1)" text-anchor="middle" font-size="6.9" fill="#3a3a3a" stroke="#3a3a3a" stroke-width="0.12" font-family="Liberation Sans, sans-serif">X</text>
<text transform="translate(509.55 616.5) scale(0.92 1)" text-anchor="middle" font-size="6.9" fill="#3a3a3a" stroke="#3a3a3a" stroke-width="0.12" font-family="Liberation Sans, sans-serif">Y</text>
<circle cx="82.7" cy="476.3" r="1.25" fill="#141a2c"/>
<text x="7.6" y="433.9" font-size="10.6" font-weight="bold" fill="#000" stroke="#000" stroke-width="0.45" font-family="Liberation Sans, sans-serif">C</text>
<rect x="207.6" y="431.4" width="10.9" height="7.1" fill="#5e1a6c" stroke="#340a3c" stroke-width="0.8"/>
<text x="221.6" y="437.6" font-size="6.8" fill="#333" textLength="57.3" lengthAdjust="spacingAndGlyphs" font-family="Liberation Sans, sans-serif">PTLD-DLBCL (n=16)</text>
<rect x="288.1" y="431.4" width="10.4" height="7.1" fill="#0e4a88" stroke="#0a2a50" stroke-width="0.8"/>
<text x="302.1" y="437.6" font-size="6.8" fill="#333" textLength="54.2" lengthAdjust="spacingAndGlyphs" font-family="Liberation Sans, sans-serif">IMC-DLBCL (n=22)</text>
</svg></body></html>
